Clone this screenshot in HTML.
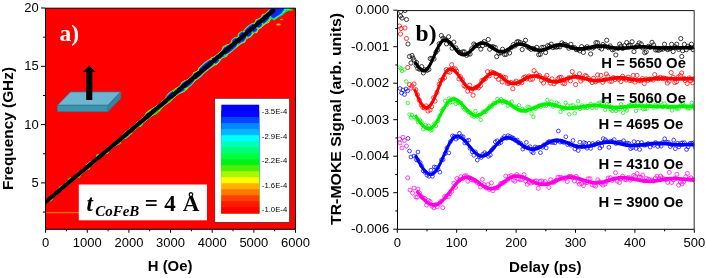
<!DOCTYPE html>
<html><head><meta charset="utf-8"><title>Figure</title>
<style>html,body{margin:0;padding:0;background:#fff;}svg{display:block;will-change:transform;}text{font-family:"Liberation Sans",sans-serif;fill:#000;}.b{font-weight:bold;}.s{font-family:"Liberation Serif",serif;font-weight:bold;}</style></head><body>
<svg width="706" height="278" viewBox="0 0 706 278">
<rect width="706" height="278" fill="#fff"/>
<defs><clipPath id="cl"><rect x="45.5" y="8.2" width="250" height="221.1"/></clipPath><clipPath id="cr"><rect x="397" y="10" width="297.5" height="219.3"/></clipPath></defs>
<rect x="45.5" y="8.2" width="250" height="221.1" fill="#ff0000"/>
<g clip-path="url(#cl)">
<rect x="45.5" y="212.2" width="34" height="0.9" fill="#ff9a00"/>
<rect x="45.5" y="211.9" width="34" height="1.5" fill="#ff5000" opacity="0.5"/>
<path d="M38.92 205.33 L39.92 204.49 L40.92 203.65 L41.92 202.81 L42.92 201.97 L43.68 200.84 L44.47 199.76 L45.73 199.23 L46.92 198.61 L47.92 197.77 L48.92 196.93 L49.92 196.09 L50.92 195.25 L51.92 194.41 L52.92 193.57 L53.92 192.73 L54.92 191.89 L55.92 191.05 L56.92 190.21 L57.92 189.37 L58.92 188.53 L59.92 187.69 L60.92 186.85 L61.92 186.01 L62.92 185.17 L63.92 184.33 L64.86 183.42 L65.77 182.47 L66.92 181.81 L67.92 180.97 L68.92 180.13 L69.92 179.29 L70.92 178.45 L71.92 177.61 L72.92 176.77 L73.92 175.93 L74.92 175.09 L75.92 174.25 L76.92 173.41 L77.73 172.35 L78.79 171.59 L79.92 170.89 L80.92 170.05 L81.92 169.21 L82.92 168.37 L83.92 167.53 L84.92 166.69 L85.87 165.79 L86.34 164.33 L87.35 163.5 L88.37 162.68 L89.38 161.85 L90.56 161.22 L91.9 160.8 L92.92 159.97 L93.92 159.13 L94.92 158.29 L95.92 157.45 L96.92 156.61 L97.92 155.77 L98.92 154.93 L99.91 154.08 L100.9 153.23 L101.9 152.38 L102.89 151.54 L103.88 150.68 L104.86 149.83 L105.86 148.98 L106.86 148.14 L107.85 147.29 L108.84 146.44 L109.83 145.59 L110.82 144.74 L111.82 143.89 L112.81 143.04 L113.8 142.19 L114.79 141.34 L115.79 140.49 L116.78 139.65 L117.77 138.8 L118.76 137.94 L119.73 137.07 L120.73 136.22 L121.72 135.37 L122.71 134.53 L123.69 133.65 L124.6 132.71 L125.33 131.55 L126.53 130.95 L127.64 130.24 L128.64 129.4 L129.63 128.55 L130.6 127.68 L131.59 126.82 L132.58 125.98 L133.59 125.14 L134.59 124.3 L135.57 123.44 L136.54 122.56 L137.52 121.7 L138.52 120.86 L139.54 120.05 L140.55 119.22 L141.56 118.38 L142.58 117.57 L143.58 116.73 L144.52 115.81 L145.15 114.54 L145.64 113.09 L146.63 112.24 L147.62 111.39 L148.61 110.53 L149.7 109.81 L150.91 109.21 L152 108.48 L153.09 107.74 L154.26 107.11 L155.3 106.32 L156.34 105.52 L157.43 104.79 L158.47 104 L159.47 103.16 L160.47 102.31 L161.46 101.47 L162.45 100.62 L163.45 99.77 L164.44 98.92 L165.43 98.07 L166.43 97.23 L167.42 96.38 L168.41 95.53 L169.21 94.45 L169.99 93.35 L171.13 92.68 L172.25 91.98 L173.31 91.21 L174.22 90.26 L175.02 89.19 L175.69 87.96 L177.01 87.49 L178.19 86.87 L179.28 86.13 L180.15 85.14 L180.72 83.79 L181.31 82.46 L182.37 81.69 L183.52 81.02 L184.58 80.26 L186 79.91 L187.3 79.43 L188.29 78.59 L189.29 77.74 L190.28 76.89 L191.27 76.04 L192.18 75.1 L192.8 73.8 L193.3 72.37 L194.59 71.87 L195.94 71.45 L197.05 70.74 L197.9 69.72 L198.4 68.28 L199.04 67.01 L200.42 66.63 L201.92 66.39 L203.09 65.74 L204.18 65.01 L205.19 64.19 L206.19 63.34 L207.18 62.5 L207.93 61.36 L208.74 60.29 L209.68 59.38 L210.55 58.38 L211.44 57.41 L212.66 56.84 L214.01 56.41 L215.14 55.73 L216.14 54.88 L217.13 54.03 L218.12 53.19 L219.12 52.34 L220.11 51.5 L221.06 50.59 L221.81 49.45 L222.22 47.92 L222.82 46.59 L223.94 45.89 L225.18 45.34 L226.29 44.64 L227.57 44.13 L229.07 43.88 L230.06 43.04 L231.06 42.19 L232.05 41.34 L233.05 40.5 L234.05 39.65 L235.04 38.81 L236.04 37.96 L237.03 37.12 L238.03 36.27 L239.02 35.42 L240.02 34.58 L240.4 33 L241 31.69 L242.32 31.22 L243.93 31.12 L244.99 30.35 L245.99 29.51 L246.64 28.25 L247.43 27.16 L248.49 26.39 L249.61 25.69 L250.67 24.92 L251.8 24.25 L252.98 23.62 L253.98 22.78 L254.93 21.87 L255.35 20.35 L256.06 19.16 L257.38 18.7 L258.98 18.58 L259.98 17.74 L260.98 16.9 L261.52 15.51 L262.25 14.35 L263.53 13.84 L264.98 13.54 L265.98 12.7 L266.98 11.86 L267.89 10.9 L268.72 9.87 L269.83 9.16 L270.98 8.5 L271.98 7.66 L272.98 6.82 L273.98 5.98 L274.98 5.14 L275.67 3.93 L275.93 2.2 L276.56 0.92 L277.65 0.19 L278.82 -0.44 L279.91 -1.18 L281.18 -1.7 L282.71 -1.91 L283.97 -2.43 L284.66 -3.64 L285.05 -5.22 L285.74 -6.42 L293.79 3.17 L292.54 3.71 L291.04 3.95 L289.79 4.49 L289.04 5.63 L288.55 7.07 L287.8 8.22 L286.54 8.75 L285.03 8.98 L283.78 9.52 L282.67 10.23 L281.47 10.83 L280.4 11.59 L279.4 12.43 L278.4 13.27 L277.4 14.11 L276.4 14.95 L275.61 16.03 L274.74 17.03 L273.52 17.62 L272.4 18.31 L271.4 19.15 L270.4 19.99 L269.81 21.31 L269.12 22.52 L267.96 23.18 L266.65 23.65 L265.5 24.3 L264.46 25.1 L263.4 25.87 L262.4 26.71 L261.4 27.55 L260.4 28.39 L259.39 29.21 L258.37 30.03 L257.84 31.44 L257.18 32.67 L255.89 33.17 L254.32 33.33 L253.29 34.13 L252.26 34.94 L251.56 36.14 L250.72 37.17 L249.46 37.7 L248.15 38.18 L247.13 38.98 L246.1 39.79 L245.67 41.3 L244.97 42.51 L243.74 43.07 L242.34 43.44 L241.13 44.03 L240.12 44.86 L239.13 45.7 L238.12 46.53 L237 47.23 L235.84 47.88 L234.81 48.68 L233.78 49.49 L233 50.59 L232.09 51.54 L231.02 52.3 L229.92 53.02 L228.86 53.78 L227.98 54.77 L227.26 55.94 L226.47 57.03 L225.03 57.35 L223.53 57.59 L222.52 58.42 L221.51 59.25 L220.62 60.21 L219.77 61.24 L218.87 62.19 L218.07 63.28 L217.26 64.34 L216.04 64.92 L214.81 65.49 L213.7 66.19 L212.64 66.96 L211.53 67.67 L210.47 68.44 L209.42 69.22 L208.37 70 L207.36 70.83 L206.35 71.65 L205.34 72.48 L204.32 73.31 L203.31 74.13 L202.56 75.27 L201.7 76.28 L200.69 77.1 L199.68 77.93 L198.67 78.75 L197.57 79.47 L196.38 80.1 L195.29 80.82 L194.27 81.65 L193.26 82.47 L192.24 83.29 L191.3 84.2 L190.43 85.2 L189.49 86.1 L188.57 87.04 L187.99 88.38 L187.19 89.46 L186.17 90.27 L185.14 91.08 L184.12 91.89 L182.93 92.51 L181.57 92.92 L180.38 93.54 L179.23 94.2 L178.03 94.8 L177.02 95.62 L176.01 96.45 L175 97.28 L174.04 98.17 L173.04 99.01 L172.06 99.87 L171.06 100.72 L170.07 101.56 L169.09 102.43 L168.09 103.27 L167.05 104.06 L165.98 104.82 L164.95 105.62 L163.93 106.44 L162.91 107.26 L161.9 108.08 L160.94 108.96 L160.02 109.91 L159.27 111.04 L157.96 111.52 L156.8 112.16 L155.77 112.97 L154.76 113.79 L153.75 114.62 L152.73 115.44 L151.72 116.27 L150.8 117.21 L149.85 118.1 L148.78 118.86 L147.67 119.57 L146.66 120.4 L145.65 121.22 L144.7 122.13 L143.73 123 L142.69 123.79 L141.63 124.55 L140.59 125.35 L139.57 126.17 L138.56 127 L137.55 127.82 L136.54 128.65 L135.54 129.49 L134.54 130.33 L133.51 131.14 L132.49 131.95 L131.47 132.77 L130.46 133.6 L129.56 134.56 L129.09 136.03 L128.1 136.88 L127.13 137.76 L126.14 138.6 L124.54 138.74 L123.37 139.37 L122.36 140.2 L121.34 141.02 L120.34 141.86 L119.34 142.7 L118.34 143.53 L117.55 144.63 L116.79 145.75 L115.3 146.01 L114.25 146.79 L113.24 147.62 L112.23 148.44 L111.21 149.26 L110.2 150.09 L109.19 150.91 L108.19 151.75 L107.45 152.91 L106.18 153.42 L105.14 154.22 L104.12 155.04 L103.11 155.86 L102.09 156.68 L101.08 157.51 L100.08 158.35 L99.08 159.19 L98.08 160.03 L97.08 160.87 L96.08 161.71 L95.08 162.55 L94.08 163.39 L93.08 164.23 L92.29 165.32 L91.08 165.91 L90.08 166.75 L89.08 167.59 L88.08 168.43 L87.08 169.27 L86.49 170.59 L85.08 170.95 L84.08 171.79 L83.08 172.63 L82.08 173.47 L81.08 174.31 L80.08 175.15 L79.08 175.99 L78.08 176.83 L77.08 177.67 L76.08 178.51 L75.08 179.35 L74.08 180.19 L73.08 181.03 L72.08 181.87 L71.08 182.71 L70.08 183.55 L69.08 184.39 L68.08 185.23 L67.08 186.07 L66.08 186.91 L65.08 187.75 L64.08 188.59 L63.2 189.57 L62.27 190.49 L61.08 191.11 L60.08 191.95 L59.08 192.79 L58.08 193.63 L57.08 194.47 L56.08 195.31 L55.08 196.15 L54.08 196.99 L53.08 197.83 L52.08 198.67 L51.08 199.51 L50.08 200.35 L49.08 201.19 L48.08 202.03 L47.08 202.87 L46.08 203.71 L45.08 204.55 L44.08 205.39 L43.08 206.23 L42.08 207.07 L41.08 207.91Z" fill="#ff9000"/>
<path d="M38.95 205.37 L39.95 204.53 L40.95 203.69 L41.95 202.85 L42.95 202.01 L43.72 200.89 L44.52 199.82 L45.77 199.27 L46.95 198.65 L47.95 197.81 L48.95 196.97 L49.95 196.13 L50.95 195.29 L51.95 194.45 L52.95 193.61 L53.95 192.77 L54.95 191.93 L55.95 191.09 L56.95 190.25 L57.95 189.41 L58.95 188.57 L59.95 187.73 L60.95 186.89 L61.95 186.05 L62.95 185.21 L63.95 184.37 L64.89 183.46 L65.81 182.52 L66.95 181.85 L67.95 181.01 L68.95 180.17 L69.95 179.33 L70.95 178.49 L71.95 177.65 L72.95 176.81 L73.95 175.97 L74.95 175.13 L75.95 174.29 L76.95 173.45 L77.77 172.39 L78.83 171.63 L79.95 170.93 L80.95 170.09 L81.95 169.25 L82.95 168.41 L83.95 167.57 L84.95 166.73 L85.9 165.84 L86.4 164.39 L87.41 163.56 L88.43 162.75 L89.43 161.92 L90.6 161.28 L91.94 160.83 L92.95 160.01 L93.95 159.17 L94.95 158.33 L95.95 157.49 L96.95 156.65 L97.95 155.81 L98.95 154.97 L99.94 154.12 L100.94 153.27 L101.93 152.43 L102.92 151.58 L103.91 150.73 L104.9 149.87 L105.9 149.03 L106.89 148.18 L107.89 147.33 L108.88 146.49 L109.87 145.64 L110.86 144.79 L111.86 143.94 L112.85 143.09 L113.84 142.24 L114.84 141.39 L115.83 140.55 L116.82 139.7 L117.82 138.85 L118.8 137.99 L119.78 137.13 L120.77 136.28 L121.77 135.43 L122.76 134.58 L123.74 133.72 L124.65 132.78 L125.39 131.63 L126.58 131.01 L127.69 130.3 L128.7 129.47 L129.68 128.61 L130.66 127.74 L131.64 126.89 L132.64 126.04 L133.65 125.21 L134.65 124.37 L135.63 123.51 L136.6 122.63 L137.58 121.77 L138.58 120.94 L139.61 120.12 L140.61 119.29 L141.62 118.46 L142.64 117.64 L143.64 116.8 L144.58 115.89 L145.23 114.63 L145.74 113.21 L146.73 112.36 L147.72 111.51 L148.71 110.66 L149.8 109.93 L151 109.32 L152.09 108.59 L153.17 107.84 L154.34 107.2 L155.38 106.41 L156.41 105.61 L157.5 104.88 L158.54 104.09 L159.54 103.25 L160.54 102.4 L161.53 101.55 L162.53 100.71 L163.52 99.86 L164.52 99.01 L165.51 98.17 L166.5 97.32 L167.5 96.47 L168.49 95.62 L169.3 94.55 L170.09 93.47 L171.22 92.79 L172.34 92.08 L173.39 91.31 L174.31 90.37 L175.12 89.3 L175.8 88.09 L177.1 87.6 L178.28 86.97 L179.36 86.23 L180.24 85.25 L180.83 83.92 L181.44 82.61 L182.5 81.84 L183.64 81.17 L184.7 80.4 L186.1 80.03 L187.39 79.54 L188.38 78.69 L189.38 77.85 L190.37 77 L191.37 76.15 L192.28 75.21 L192.91 73.93 L193.43 72.52 L194.71 72.02 L196.05 71.58 L197.16 70.86 L198.01 69.85 L198.53 68.44 L199.18 67.19 L200.55 66.79 L202.03 66.52 L203.19 65.87 L204.28 65.13 L205.29 64.31 L206.29 63.46 L207.28 62.62 L208.04 61.49 L208.86 60.43 L209.8 59.52 L210.67 58.53 L211.57 57.57 L212.79 56.99 L214.12 56.54 L215.25 55.85 L216.24 55.01 L217.24 54.16 L218.23 53.32 L219.23 52.47 L220.22 51.63 L221.17 50.72 L221.93 49.59 L222.37 48.09 L222.98 46.79 L224.09 46.08 L225.33 45.52 L226.44 44.81 L227.71 44.29 L229.18 44.02 L230.18 43.17 L231.17 42.33 L232.17 41.48 L233.17 40.64 L234.16 39.79 L235.16 38.95 L236.15 38.1 L237.15 37.26 L238.15 36.41 L239.14 35.57 L240.14 34.72 L240.54 33.18 L241.16 31.88 L242.47 31.4 L244.06 31.27 L245.12 30.5 L246.11 29.65 L246.78 28.42 L247.58 27.33 L248.63 26.56 L249.75 25.86 L250.8 25.09 L251.94 24.4 L253.1 23.76 L254.1 22.92 L255.05 22.02 L255.5 20.52 L256.22 19.36 L257.53 18.88 L259.1 18.72 L260.1 17.88 L261.1 17.04 L261.67 15.68 L262.4 14.53 L263.67 14.01 L265.1 13.68 L266.1 12.84 L267.1 12 L268.01 11.06 L268.86 10.03 L269.96 9.32 L271.1 8.64 L272.1 7.8 L273.1 6.96 L274.1 6.12 L275.1 5.28 L275.81 4.09 L276.09 2.4 L276.74 1.14 L277.82 0.4 L278.99 -0.24 L280.08 -0.98 L281.33 -1.51 L282.84 -1.75 L284.1 -2.29 L284.8 -3.48 L285.21 -5.02 L285.91 -6.21 L293.56 2.89 L292.32 3.44 L290.84 3.71 L289.6 4.26 L288.84 5.39 L288.33 6.81 L287.57 7.94 L286.32 8.49 L284.83 8.74 L283.59 9.29 L282.49 10.01 L281.29 10.62 L280.23 11.38 L279.23 12.22 L278.23 13.06 L277.23 13.9 L276.23 14.74 L275.42 15.82 L274.55 16.81 L273.34 17.4 L272.23 18.1 L271.23 18.94 L270.23 19.78 L269.62 21.08 L268.91 22.28 L267.76 22.94 L266.47 23.43 L265.32 24.09 L264.28 24.89 L263.23 25.66 L262.23 26.5 L261.23 27.34 L260.23 28.18 L259.21 29 L258.19 29.82 L257.65 31.2 L256.97 32.42 L255.69 32.93 L254.14 33.12 L253.11 33.92 L252.09 34.73 L251.37 35.92 L250.53 36.94 L249.28 37.48 L247.98 37.97 L246.96 38.78 L245.93 39.59 L245.47 41.08 L244.77 42.26 L243.54 42.83 L242.16 43.22 L240.96 43.82 L239.95 44.65 L238.96 45.5 L237.94 46.33 L236.83 47.03 L235.67 47.68 L234.65 48.49 L233.62 49.3 L232.83 50.39 L231.92 51.34 L230.86 52.1 L229.76 52.82 L228.69 53.59 L227.81 54.57 L227.08 55.72 L226.28 56.8 L224.86 57.15 L223.38 57.41 L222.37 58.24 L221.36 59.07 L220.46 60.03 L219.61 61.05 L218.7 62 L217.91 63.08 L217.08 64.13 L215.88 64.73 L214.66 65.3 L213.55 66.01 L212.49 66.78 L211.38 67.5 L210.33 68.27 L209.28 69.05 L208.23 69.84 L207.22 70.67 L206.21 71.49 L205.2 72.32 L204.19 73.15 L203.18 73.98 L202.42 75.1 L201.56 76.1 L200.54 76.93 L199.54 77.76 L198.52 78.58 L197.43 79.31 L196.25 79.94 L195.16 80.67 L194.15 81.5 L193.13 82.32 L192.12 83.15 L191.18 84.05 L190.3 85.04 L189.35 85.94 L188.44 86.88 L187.84 88.2 L187.04 89.27 L186.01 90.09 L184.99 90.89 L183.96 91.71 L182.78 92.33 L181.44 92.77 L180.26 93.39 L179.12 94.06 L177.92 94.67 L176.91 95.5 L175.9 96.32 L174.89 97.15 L173.94 98.04 L172.94 98.89 L171.96 99.75 L170.96 100.59 L169.96 101.44 L168.98 102.3 L167.99 103.15 L166.95 103.94 L165.88 104.7 L164.85 105.5 L163.83 106.32 L162.82 107.14 L161.8 107.96 L160.84 108.85 L159.93 109.79 L159.16 110.91 L157.87 111.4 L156.71 112.06 L155.68 112.86 L154.67 113.69 L153.66 114.52 L152.65 115.34 L151.64 116.17 L150.72 117.1 L149.76 118 L148.7 118.76 L147.59 119.48 L146.58 120.3 L145.57 121.13 L144.63 122.04 L143.65 122.9 L142.61 123.7 L141.55 124.47 L140.52 125.27 L139.5 126.09 L138.49 126.92 L137.48 127.74 L136.47 128.57 L135.47 129.41 L134.47 130.25 L133.44 131.06 L132.42 131.87 L131.41 132.7 L130.4 133.53 L129.5 134.48 L129 135.92 L128.01 136.77 L127.04 137.65 L126.05 138.5 L124.48 138.66 L123.32 139.31 L122.3 140.13 L121.29 140.96 L120.29 141.8 L119.29 142.64 L118.29 143.47 L117.49 144.56 L116.72 145.67 L115.25 145.95 L114.21 146.74 L113.2 147.56 L112.18 148.39 L111.17 149.21 L110.16 150.04 L109.15 150.87 L108.15 151.71 L107.4 152.85 L106.14 153.38 L105.1 154.17 L104.09 154.99 L103.07 155.82 L102.06 156.64 L101.05 157.47 L100.05 158.31 L99.05 159.15 L98.05 159.99 L97.05 160.83 L96.05 161.67 L95.05 162.51 L94.05 163.35 L93.05 164.19 L92.25 165.27 L91.05 165.87 L90.05 166.71 L89.05 167.55 L88.05 168.39 L87.05 169.23 L86.44 170.53 L85.05 170.91 L84.05 171.75 L83.05 172.59 L82.05 173.43 L81.05 174.27 L80.05 175.11 L79.05 175.95 L78.05 176.79 L77.05 177.63 L76.05 178.47 L75.05 179.31 L74.05 180.15 L73.05 180.99 L72.05 181.83 L71.05 182.67 L70.05 183.51 L69.05 184.35 L68.05 185.19 L67.05 186.03 L66.05 186.87 L65.05 187.71 L64.05 188.55 L63.17 189.53 L62.23 190.45 L61.05 191.07 L60.05 191.91 L59.05 192.75 L58.05 193.59 L57.05 194.43 L56.05 195.27 L55.05 196.11 L54.05 196.95 L53.05 197.79 L52.05 198.63 L51.05 199.47 L50.05 200.31 L49.05 201.15 L48.05 201.99 L47.05 202.83 L46.05 203.67 L45.05 204.51 L44.05 205.35 L43.05 206.19 L42.05 207.03 L41.05 207.87Z" fill="#f4f400"/>
<path d="M38.98 205.41 L39.98 204.57 L40.98 203.73 L41.98 202.89 L42.98 202.05 L43.77 200.95 L44.58 199.89 L45.81 199.33 L46.98 198.69 L47.98 197.85 L48.98 197.01 L49.98 196.17 L50.98 195.33 L51.98 194.49 L52.98 193.65 L53.98 192.81 L54.98 191.97 L55.98 191.13 L56.98 190.29 L57.98 189.45 L58.98 188.61 L59.98 187.77 L60.98 186.93 L61.98 186.09 L62.98 185.25 L63.98 184.41 L64.93 183.5 L65.85 182.57 L66.98 181.89 L67.98 181.05 L68.98 180.21 L69.98 179.37 L70.98 178.53 L71.98 177.69 L72.98 176.85 L73.98 176.01 L74.98 175.17 L75.98 174.33 L76.98 173.49 L77.81 172.45 L78.87 171.68 L79.98 170.97 L80.98 170.13 L81.98 169.29 L82.98 168.45 L83.98 167.61 L84.98 166.77 L85.94 165.88 L86.46 164.47 L87.47 163.64 L88.49 162.82 L89.5 161.99 L90.66 161.34 L91.97 160.87 L92.98 160.05 L93.98 159.21 L94.98 158.37 L95.98 157.53 L96.98 156.69 L97.98 155.85 L98.98 155.01 L99.98 154.16 L100.97 153.31 L101.96 152.47 L102.96 151.62 L103.95 150.77 L104.94 149.92 L105.94 149.07 L106.93 148.23 L107.93 147.38 L108.92 146.53 L109.91 145.69 L110.91 144.84 L111.9 143.99 L112.9 143.15 L113.89 142.3 L114.88 141.45 L115.88 140.6 L116.87 139.76 L117.87 138.91 L118.85 138.05 L119.83 137.19 L120.83 136.34 L121.82 135.5 L122.82 134.65 L123.79 133.78 L124.72 132.85 L125.47 131.72 L126.65 131.1 L127.75 130.37 L128.76 129.54 L129.75 128.69 L130.73 127.82 L131.71 126.97 L132.71 126.12 L133.72 125.29 L134.72 124.45 L135.7 123.59 L136.67 122.72 L137.65 121.86 L138.66 121.02 L139.68 120.21 L140.69 119.38 L141.69 118.54 L142.71 117.73 L143.72 116.89 L144.66 115.98 L145.33 114.75 L145.87 113.37 L146.86 112.52 L147.85 111.67 L148.85 110.81 L149.93 110.08 L151.12 109.46 L152.2 108.72 L153.28 107.97 L154.43 107.32 L155.47 106.52 L156.51 105.72 L157.59 104.98 L158.63 104.19 L159.63 103.35 L160.63 102.5 L161.62 101.66 L162.62 100.81 L163.61 99.97 L164.61 99.12 L165.6 98.27 L166.6 97.43 L167.59 96.58 L168.59 95.74 L169.4 94.68 L170.21 93.61 L171.34 92.92 L172.44 92.21 L173.5 91.43 L174.42 90.49 L175.24 89.44 L175.94 88.25 L177.23 87.75 L178.39 87.11 L179.47 86.36 L180.36 85.38 L180.97 84.09 L181.6 82.8 L182.66 82.04 L183.79 81.35 L184.85 80.58 L186.22 80.18 L187.5 79.67 L188.49 78.82 L189.49 77.98 L190.48 77.13 L191.48 76.29 L192.4 75.35 L193.05 74.1 L193.6 72.73 L194.87 72.2 L196.18 71.74 L197.28 71.02 L198.15 70.02 L198.7 68.64 L199.37 67.41 L200.72 66.99 L202.17 66.68 L203.32 66.02 L204.4 65.28 L205.42 64.46 L206.41 63.61 L207.41 62.77 L208.18 61.66 L209.01 60.61 L209.96 59.71 L210.84 58.73 L211.74 57.77 L212.95 57.18 L214.26 56.71 L215.38 56.01 L216.37 55.16 L217.37 54.32 L218.37 53.47 L219.36 52.63 L220.36 51.79 L221.31 50.89 L222.08 49.78 L222.56 48.31 L223.19 47.04 L224.3 46.33 L225.52 45.75 L226.62 45.03 L227.88 44.49 L229.32 44.19 L230.32 43.34 L231.32 42.5 L232.31 41.65 L233.31 40.81 L234.31 39.96 L235.3 39.12 L236.3 38.28 L237.3 37.43 L238.29 36.59 L239.29 35.74 L240.29 34.9 L240.73 33.4 L241.38 32.14 L242.66 31.63 L244.21 31.45 L245.27 30.68 L246.27 29.84 L246.95 28.62 L247.76 27.56 L248.82 26.78 L249.92 26.07 L250.98 25.29 L252.1 24.6 L253.26 23.95 L254.26 23.11 L255.21 22.21 L255.69 20.75 L256.43 19.61 L257.72 19.11 L259.26 18.91 L260.26 18.07 L261.26 17.23 L261.85 15.9 L262.6 14.77 L263.85 14.23 L265.26 13.87 L266.26 13.03 L267.26 12.19 L268.17 11.25 L269.03 10.23 L270.13 9.51 L271.26 8.83 L272.26 7.99 L273.26 7.15 L274.26 6.31 L275.26 5.47 L275.98 4.3 L276.31 2.66 L276.98 1.42 L278.06 0.68 L279.22 0.03 L280.3 -0.72 L281.54 -1.27 L283.01 -1.55 L284.25 -2.1 L284.97 -3.27 L285.42 -4.77 L286.14 -5.94 L293.28 2.55 L292.05 3.13 L290.6 3.43 L289.37 4 L288.6 5.11 L288.06 6.49 L287.29 7.6 L286.05 8.17 L284.59 8.46 L283.36 9.02 L282.27 9.75 L281.09 10.37 L280.03 11.14 L279.03 11.98 L278.03 12.82 L277.03 13.66 L276.03 14.5 L275.21 15.56 L274.33 16.55 L273.14 17.15 L272.03 17.86 L271.03 18.7 L270.03 19.54 L269.39 20.82 L268.67 21.99 L267.53 22.66 L266.25 23.17 L265.11 23.84 L264.08 24.65 L263.03 25.42 L262.03 26.26 L261.03 27.1 L260.03 27.94 L259.01 28.76 L257.99 29.58 L257.42 30.93 L256.72 32.12 L255.45 32.65 L253.94 32.88 L252.91 33.69 L251.89 34.5 L251.16 35.66 L250.3 36.67 L249.07 37.23 L247.79 37.74 L246.76 38.55 L245.74 39.36 L245.25 40.81 L244.52 41.97 L243.31 42.56 L241.95 42.97 L240.76 43.59 L239.75 44.42 L238.76 45.26 L237.75 46.09 L236.64 46.8 L235.49 47.47 L234.47 48.28 L233.44 49.09 L232.64 50.16 L231.72 51.1 L230.66 51.86 L229.57 52.59 L228.51 53.36 L227.62 54.34 L226.86 55.47 L226.05 56.54 L224.66 56.91 L223.21 57.21 L222.2 58.04 L221.19 58.87 L220.29 59.83 L219.43 60.83 L218.52 61.78 L217.71 62.84 L216.87 63.88 L215.68 64.49 L214.47 65.08 L213.37 65.8 L212.32 66.58 L211.22 67.3 L210.17 68.08 L209.12 68.87 L208.08 69.65 L207.07 70.48 L206.06 71.31 L205.05 72.14 L204.04 72.97 L203.03 73.8 L202.26 74.91 L201.39 75.9 L200.37 76.73 L199.37 77.56 L198.36 78.39 L197.27 79.12 L196.1 79.76 L195.02 80.5 L194.01 81.33 L192.99 82.15 L191.98 82.98 L191.04 83.88 L190.15 84.86 L189.2 85.76 L188.28 86.69 L187.66 87.98 L186.84 89.04 L185.82 89.86 L184.8 90.67 L183.78 91.48 L182.61 92.12 L181.29 92.58 L180.12 93.22 L178.98 93.9 L177.8 94.53 L176.79 95.35 L175.78 96.18 L174.77 97.01 L173.82 97.9 L172.82 98.75 L171.84 99.61 L170.84 100.45 L169.84 101.29 L168.86 102.16 L167.87 103 L166.83 103.8 L165.77 104.57 L164.74 105.37 L163.72 106.19 L162.71 107.01 L161.69 107.84 L160.73 108.72 L159.81 109.66 L159.03 110.76 L157.76 111.27 L156.61 111.94 L155.59 112.75 L154.58 113.58 L153.57 114.41 L152.56 115.23 L151.55 116.06 L150.62 116.99 L149.66 117.88 L148.61 118.65 L147.51 119.37 L146.5 120.2 L145.49 121.03 L144.54 121.93 L143.56 122.8 L142.52 123.59 L141.47 124.37 L140.44 125.17 L139.42 126 L138.41 126.82 L137.4 127.65 L136.39 128.48 L135.39 129.32 L134.4 130.17 L133.37 130.97 L132.35 131.79 L131.34 132.62 L130.33 133.45 L129.42 134.4 L128.9 135.8 L127.91 136.65 L126.94 137.53 L125.95 138.38 L124.41 138.58 L123.26 139.24 L122.25 140.06 L121.24 140.89 L120.24 141.73 L119.23 142.57 L118.23 143.41 L117.43 144.48 L116.64 145.57 L115.2 145.89 L114.16 146.68 L113.15 147.51 L112.14 148.33 L111.13 149.16 L110.12 149.99 L109.1 150.82 L108.11 151.66 L107.34 152.78 L106.1 153.33 L105.06 154.13 L104.05 154.95 L103.04 155.78 L102.03 156.6 L101.02 157.43 L100.02 158.27 L99.02 159.11 L98.02 159.95 L97.02 160.79 L96.02 161.63 L95.02 162.47 L94.02 163.31 L93.02 164.15 L92.21 165.22 L91.02 165.83 L90.02 166.67 L89.02 167.51 L88.02 168.35 L87.02 169.19 L86.38 170.47 L85.02 170.87 L84.02 171.71 L83.02 172.55 L82.02 173.39 L81.02 174.23 L80.02 175.07 L79.02 175.91 L78.02 176.75 L77.02 177.59 L76.02 178.43 L75.02 179.27 L74.02 180.11 L73.02 180.95 L72.02 181.79 L71.02 182.63 L70.02 183.47 L69.02 184.31 L68.02 185.15 L67.02 185.99 L66.02 186.83 L65.02 187.67 L64.02 188.51 L63.13 189.48 L62.19 190.4 L61.02 191.03 L60.02 191.87 L59.02 192.71 L58.02 193.55 L57.02 194.39 L56.02 195.23 L55.02 196.07 L54.02 196.91 L53.02 197.75 L52.02 198.59 L51.02 199.43 L50.02 200.27 L49.02 201.11 L48.02 201.95 L47.02 202.79 L46.02 203.63 L45.02 204.47 L44.02 205.31 L43.02 206.15 L42.02 206.99 L41.02 207.83Z" fill="#00f000"/>
<path d="M39.02 205.45 L40.02 204.61 L41.02 203.77 L42.02 202.93 L43.02 202.09 L43.82 201.02 L44.66 199.98 L45.86 199.39 L47.02 198.73 L48.02 197.89 L49.02 197.05 L50.02 196.21 L51.02 195.37 L52.02 194.53 L53.02 193.69 L54.02 192.85 L55.02 192.01 L56.02 191.17 L57.02 190.33 L58.02 189.49 L59.02 188.65 L60.02 187.81 L61.02 186.97 L62.02 186.13 L63.02 185.29 L64.02 184.45 L64.97 183.55 L65.89 182.62 L67.02 181.93 L68.02 181.09 L69.02 180.25 L70.02 179.41 L71.02 178.57 L72.02 177.73 L73.02 176.89 L74.02 176.05 L75.02 175.21 L76.02 174.37 L77.02 173.53 L77.86 172.51 L78.92 171.73 L80.02 171.01 L81.02 170.17 L82.02 169.33 L83.02 168.49 L84.02 167.65 L85.02 166.81 L85.98 165.92 L86.55 164.58 L87.56 163.75 L88.58 162.93 L89.59 162.1 L90.72 161.42 L92 160.91 L93.02 160.09 L94.02 159.25 L95.02 158.41 L96.02 157.57 L97.02 156.73 L98.02 155.89 L99.02 155.05 L100.01 154.2 L101.01 153.36 L102 152.51 L103 151.66 L103.99 150.81 L104.98 149.96 L105.98 149.12 L106.97 148.28 L107.97 147.43 L108.96 146.59 L109.96 145.74 L110.95 144.89 L111.95 144.05 L112.94 143.2 L113.94 142.36 L114.93 141.51 L115.93 140.67 L116.92 139.82 L117.92 138.97 L118.91 138.12 L119.89 137.26 L120.89 136.41 L121.88 135.57 L122.88 134.72 L123.86 133.86 L124.79 132.94 L125.57 131.84 L126.73 131.19 L127.82 130.46 L128.83 129.63 L129.82 128.77 L130.8 127.91 L131.79 127.06 L132.79 126.22 L133.8 125.39 L134.8 124.55 L135.78 123.69 L136.76 122.82 L137.74 121.96 L138.75 121.13 L139.76 120.31 L140.77 119.48 L141.78 118.64 L142.8 117.83 L143.8 116.99 L144.75 116.09 L145.46 114.9 L146.05 113.58 L147.04 112.73 L148.04 111.88 L149.03 111.03 L150.11 110.28 L151.27 109.64 L152.35 108.89 L153.41 108.13 L154.55 107.46 L155.59 106.66 L156.62 105.86 L157.69 105.1 L158.73 104.31 L159.73 103.47 L160.73 102.62 L161.72 101.78 L162.72 100.93 L163.71 100.09 L164.71 99.24 L165.71 98.4 L166.7 97.56 L167.7 96.71 L168.69 95.87 L169.53 94.84 L170.36 93.79 L171.47 93.08 L172.57 92.36 L173.62 91.57 L174.55 90.65 L175.39 89.62 L176.13 88.47 L177.38 87.93 L178.53 87.27 L179.6 86.51 L180.5 85.55 L181.16 84.31 L181.83 83.07 L182.88 82.3 L184 81.59 L185.05 80.82 L186.38 80.37 L187.62 79.82 L188.62 78.98 L189.62 78.13 L190.61 77.29 L191.61 76.44 L192.54 75.52 L193.23 74.31 L193.83 73 L195.07 72.44 L196.35 71.94 L197.44 71.2 L198.32 70.22 L198.92 68.9 L199.63 67.72 L200.94 67.25 L202.34 66.89 L203.48 66.2 L204.55 65.45 L205.56 64.63 L206.56 63.78 L207.56 62.94 L208.36 61.86 L209.2 60.84 L210.16 59.95 L211.05 58.98 L211.96 58.04 L213.15 57.42 L214.43 56.91 L215.53 56.19 L216.53 55.35 L217.53 54.5 L218.52 53.66 L219.52 52.82 L220.52 51.97 L221.47 51.08 L222.27 50 L222.81 48.61 L223.48 47.39 L224.58 46.66 L225.77 46.05 L226.87 45.32 L228.09 44.75 L229.49 44.38 L230.49 43.54 L231.49 42.7 L232.48 41.85 L233.48 41.01 L234.48 40.17 L235.47 39.32 L236.47 38.48 L237.47 37.64 L238.47 36.79 L239.46 35.95 L240.46 35.11 L240.97 33.68 L241.65 32.47 L242.9 31.93 L244.4 31.67 L245.45 30.89 L246.45 30.05 L247.17 28.88 L248 27.84 L249.05 27.06 L250.14 26.33 L251.19 25.55 L252.3 24.84 L253.44 24.17 L254.44 23.33 L255.4 22.43 L255.94 21.05 L256.71 19.93 L257.96 19.4 L259.44 19.13 L260.44 18.29 L261.44 17.45 L262.08 16.17 L262.86 15.07 L264.08 14.5 L265.44 14.09 L266.44 13.25 L267.44 12.41 L268.37 11.48 L269.24 10.48 L270.33 9.75 L271.44 9.05 L272.44 8.21 L273.44 7.37 L274.44 6.53 L275.44 5.69 L276.2 4.55 L276.6 3 L277.3 1.81 L278.37 1.05 L279.52 0.38 L280.59 -0.37 L281.8 -0.96 L283.22 -1.3 L284.44 -1.88 L285.19 -3.02 L285.7 -4.44 L286.45 -5.58 L292.93 2.13 L291.72 2.73 L290.32 3.09 L289.12 3.69 L288.32 4.78 L287.73 6.1 L286.93 7.18 L285.73 7.78 L284.32 8.13 L283.11 8.72 L282.03 9.47 L280.86 10.11 L279.81 10.89 L278.81 11.73 L277.81 12.57 L276.81 13.41 L275.81 14.25 L274.98 15.28 L274.08 16.25 L272.91 16.88 L271.81 17.61 L270.81 18.45 L269.81 19.29 L269.14 20.51 L268.38 21.65 L267.26 22.34 L266.01 22.88 L264.89 23.58 L263.86 24.38 L262.81 25.17 L261.81 26.01 L260.81 26.85 L259.81 27.69 L258.8 28.51 L257.78 29.33 L257.15 30.62 L256.42 31.77 L255.18 32.33 L253.73 32.62 L252.7 33.43 L251.67 34.24 L250.91 35.36 L250.04 36.35 L248.83 36.95 L247.58 37.49 L246.56 38.3 L245.53 39.11 L244.98 40.49 L244.22 41.62 L243.03 42.23 L241.71 42.69 L240.54 43.33 L239.53 44.16 L238.54 45 L237.52 45.83 L236.43 46.55 L235.3 47.23 L234.27 48.04 L233.25 48.86 L232.42 49.9 L231.49 50.83 L230.43 51.6 L229.35 52.34 L228.3 53.11 L227.39 54.07 L226.61 55.17 L225.78 56.21 L224.43 56.63 L223.03 56.99 L222.02 57.82 L221.01 58.65 L220.1 59.6 L219.22 60.59 L218.3 61.52 L217.47 62.56 L216.62 63.57 L215.45 64.21 L214.26 64.83 L213.17 65.57 L212.12 66.35 L211.04 67.08 L209.99 67.87 L208.95 68.66 L207.91 69.46 L206.9 70.29 L205.9 71.12 L204.89 71.95 L203.88 72.78 L202.87 73.61 L202.07 74.69 L201.19 75.66 L200.18 76.49 L199.17 77.32 L198.16 78.15 L197.08 78.9 L195.93 79.56 L194.86 80.31 L193.85 81.14 L192.84 81.97 L191.83 82.8 L190.88 83.69 L189.98 84.66 L189.02 85.55 L188.09 86.47 L187.43 87.71 L186.59 88.75 L185.58 89.57 L184.55 90.38 L183.53 91.2 L182.39 91.86 L181.1 92.36 L179.95 93.02 L178.83 93.72 L177.67 94.37 L176.66 95.2 L175.65 96.03 L174.65 96.86 L173.68 97.74 L172.69 98.59 L171.7 99.45 L170.7 100.29 L169.71 101.13 L168.73 102 L167.73 102.84 L166.7 103.64 L165.64 104.42 L164.61 105.22 L163.6 106.05 L162.59 106.87 L161.58 107.7 L160.61 108.58 L159.68 109.5 L158.88 110.58 L157.64 111.13 L156.5 111.81 L155.48 112.63 L154.47 113.46 L153.47 114.29 L152.46 115.11 L151.45 115.94 L150.51 116.86 L149.55 117.75 L148.5 118.53 L147.41 119.26 L146.4 120.09 L145.4 120.92 L144.44 121.82 L143.46 122.68 L142.43 123.48 L141.38 124.26 L140.35 125.07 L139.34 125.9 L138.33 126.73 L137.32 127.56 L136.31 128.38 L135.32 129.23 L134.32 130.07 L133.3 130.88 L132.28 131.7 L131.27 132.53 L130.26 133.36 L129.34 134.3 L128.76 135.64 L127.77 136.49 L126.8 137.36 L125.81 138.21 L124.33 138.49 L123.2 139.16 L122.18 139.99 L121.18 140.82 L120.18 141.66 L119.18 142.5 L118.17 143.34 L117.35 144.38 L116.53 145.45 L115.15 145.82 L114.11 146.62 L113.1 147.45 L112.09 148.28 L111.08 149.11 L110.07 149.94 L109.06 150.76 L108.06 151.6 L107.27 152.7 L106.06 153.28 L105.03 154.08 L104.01 154.91 L103 155.74 L101.99 156.56 L100.98 157.39 L99.98 158.23 L98.98 159.07 L97.98 159.91 L96.98 160.75 L95.98 161.59 L94.98 162.43 L93.98 163.27 L92.98 164.11 L92.15 165.15 L90.98 165.79 L89.98 166.63 L88.98 167.47 L87.98 168.31 L86.98 169.15 L86.31 170.38 L84.98 170.83 L83.98 171.67 L82.98 172.51 L81.98 173.35 L80.98 174.19 L79.98 175.03 L78.98 175.87 L77.98 176.71 L76.98 177.55 L75.98 178.39 L74.98 179.23 L73.98 180.07 L72.98 180.91 L71.98 181.75 L70.98 182.59 L69.98 183.43 L68.98 184.27 L67.98 185.11 L66.98 185.95 L65.98 186.79 L64.98 187.63 L63.98 188.47 L63.08 189.43 L62.14 190.33 L60.98 190.99 L59.98 191.83 L58.98 192.67 L57.98 193.51 L56.98 194.35 L55.98 195.19 L54.98 196.03 L53.98 196.87 L52.98 197.71 L51.98 198.55 L50.98 199.39 L49.98 200.23 L48.98 201.07 L47.98 201.91 L46.98 202.75 L45.98 203.59 L44.98 204.43 L43.98 205.27 L42.98 206.11 L41.98 206.95 L40.98 207.79Z" fill="#00f8e0"/>
<path d="M39.05 205.49 L40.05 204.65 L41.05 203.81 L42.05 202.97 L43.05 202.13 L43.88 201.09 L44.74 200.08 L45.92 199.45 L47.05 198.77 L48.05 197.93 L49.05 197.09 L50.05 196.25 L51.05 195.41 L52.05 194.57 L53.05 193.73 L54.05 192.89 L55.05 192.05 L56.05 191.21 L57.05 190.37 L58.05 189.53 L59.05 188.69 L60.05 187.85 L61.05 187.01 L62.05 186.17 L63.05 185.33 L64.05 184.49 L65.01 183.6 L65.94 182.68 L67.05 181.97 L68.05 181.13 L69.05 180.29 L70.05 179.45 L71.05 178.61 L72.05 177.77 L73.05 176.93 L74.05 176.09 L75.05 175.25 L76.05 174.41 L77.05 173.57 L77.92 172.57 L78.96 171.79 L80.05 171.05 L81.05 170.21 L82.05 169.37 L83.05 168.53 L84.05 167.69 L85.05 166.85 L86.01 165.97 L86.66 164.7 L87.66 163.87 L88.68 163.04 L89.68 162.21 L90.8 161.51 L92.04 160.95 L93.05 160.13 L94.05 159.29 L95.05 158.45 L96.05 157.61 L97.05 156.77 L98.05 155.93 L99.05 155.09 L100.04 154.24 L101.04 153.4 L102.04 152.55 L103.03 151.71 L104.03 150.86 L105.02 150.01 L106.02 149.17 L107.02 148.33 L108.01 147.48 L109.01 146.64 L110 145.79 L111 144.95 L112 144.1 L112.99 143.26 L113.99 142.42 L114.98 141.57 L115.98 140.73 L116.98 139.88 L117.97 139.04 L118.96 138.19 L119.95 137.33 L120.95 136.49 L121.94 135.64 L122.94 134.8 L123.92 133.94 L124.87 133.03 L125.68 131.97 L126.82 131.29 L127.9 130.54 L128.9 129.71 L129.89 128.86 L130.88 128 L131.87 127.15 L132.87 126.31 L133.87 125.48 L134.88 124.64 L135.86 123.79 L136.84 122.92 L137.83 122.07 L138.83 121.23 L139.85 120.41 L140.86 119.58 L141.86 118.74 L142.88 117.92 L143.88 117.09 L144.84 116.2 L145.59 115.06 L146.25 113.81 L147.24 112.96 L148.23 112.12 L149.23 111.27 L150.29 110.51 L151.43 109.84 L152.5 109.07 L153.56 108.3 L154.68 107.6 L155.71 106.8 L156.73 105.99 L157.79 105.23 L158.83 104.42 L159.83 103.58 L160.83 102.74 L161.82 101.9 L162.82 101.05 L163.82 100.21 L164.81 99.37 L165.81 98.52 L166.81 97.68 L167.8 96.84 L168.8 95.99 L169.67 94.99 L170.52 93.98 L171.61 93.25 L172.7 92.51 L173.74 91.72 L174.68 90.81 L175.54 89.81 L176.32 88.7 L177.54 88.12 L178.66 87.43 L179.72 86.66 L180.64 85.72 L181.35 84.53 L182.07 83.36 L183.11 82.58 L184.21 81.85 L185.26 81.07 L186.54 80.56 L187.75 79.97 L188.74 79.13 L189.74 78.28 L190.74 77.44 L191.74 76.6 L192.68 75.68 L193.42 74.53 L194.08 73.29 L195.28 72.69 L196.52 72.14 L197.6 71.39 L198.49 70.43 L199.15 69.18 L199.91 68.05 L201.17 67.52 L202.51 67.09 L203.63 66.39 L204.69 65.62 L205.7 64.8 L206.7 63.95 L207.7 63.11 L208.53 62.07 L209.4 61.07 L210.36 60.19 L211.27 59.24 L212.2 58.31 L213.35 57.66 L214.59 57.1 L215.68 56.37 L216.68 55.53 L217.68 54.68 L218.67 53.84 L219.67 53 L220.67 52.16 L221.63 51.27 L222.46 50.23 L223.07 48.92 L223.79 47.75 L224.87 47.01 L226.04 46.37 L227.12 45.62 L228.31 45.01 L229.65 44.57 L230.65 43.73 L231.65 42.89 L232.64 42.05 L233.64 41.2 L234.64 40.36 L235.64 39.52 L236.64 38.68 L237.64 37.84 L238.63 36.99 L239.63 36.15 L240.63 35.31 L241.21 33.97 L241.94 32.81 L243.16 32.23 L244.58 31.89 L245.62 31.1 L246.62 30.26 L247.38 29.14 L248.24 28.13 L249.28 27.34 L250.36 26.59 L251.4 25.8 L252.5 25.07 L253.62 24.37 L254.62 23.53 L255.58 22.65 L256.19 21.34 L256.99 20.27 L258.21 19.69 L259.62 19.33 L260.62 18.49 L261.62 17.65 L262.31 16.44 L263.12 15.38 L264.31 14.77 L265.62 14.29 L266.62 13.45 L267.62 12.61 L268.55 11.7 L269.44 10.73 L270.52 9.97 L271.62 9.25 L272.62 8.41 L273.62 7.57 L274.62 6.73 L275.62 5.89 L276.41 4.8 L276.9 3.36 L277.65 2.22 L278.71 1.45 L279.83 0.76 L280.89 -0.01 L282.07 -0.64 L283.43 -1.05 L284.61 -1.67 L285.4 -2.76 L285.98 -4.1 L286.77 -5.19 L292.55 1.69 L291.38 2.33 L290.04 2.76 L288.87 3.39 L288.04 4.44 L287.38 5.69 L286.56 6.73 L285.38 7.37 L284.03 7.79 L282.86 8.42 L281.79 9.18 L280.65 9.85 L279.61 10.64 L278.61 11.48 L277.61 12.32 L276.61 13.16 L275.61 14 L274.75 15.01 L273.84 15.96 L272.69 16.62 L271.61 17.36 L270.61 18.2 L269.61 19.04 L268.88 20.21 L268.09 21.3 L266.99 22.02 L265.78 22.6 L264.67 23.32 L263.65 24.13 L262.61 24.92 L261.61 25.76 L260.61 26.6 L259.61 27.44 L258.59 28.26 L257.57 29.08 L256.89 30.3 L256.11 31.4 L254.91 32 L253.52 32.38 L252.49 33.18 L251.47 34 L250.67 35.07 L249.77 36.04 L248.59 36.66 L247.38 37.25 L246.35 38.06 L245.33 38.88 L244.71 40.17 L243.91 41.25 L242.75 41.89 L241.48 42.41 L240.33 43.07 L239.32 43.9 L238.32 44.74 L237.31 45.56 L236.22 46.3 L235.11 47.01 L234.08 47.82 L233.06 48.63 L232.2 49.64 L231.26 50.55 L230.21 51.33 L229.14 52.08 L228.09 52.87 L227.17 53.8 L226.35 54.86 L225.49 55.86 L224.19 56.35 L222.85 56.78 L221.84 57.61 L220.83 58.44 L219.91 59.37 L219.02 60.34 L218.08 61.26 L217.22 62.27 L216.35 63.26 L215.2 63.92 L214.05 64.58 L212.97 65.33 L211.93 66.12 L210.86 66.87 L209.82 67.66 L208.78 68.46 L207.75 69.26 L206.74 70.09 L205.74 70.93 L204.73 71.76 L203.72 72.59 L202.72 73.42 L201.89 74.47 L200.98 75.42 L199.97 76.25 L198.97 77.08 L197.96 77.91 L196.89 78.67 L195.77 79.37 L194.7 80.13 L193.7 80.96 L192.69 81.79 L191.68 82.62 L190.72 83.51 L189.81 84.45 L188.84 85.33 L187.9 86.24 L187.19 87.43 L186.33 88.43 L185.31 89.25 L184.29 90.07 L183.28 90.89 L182.15 91.58 L180.91 92.13 L179.78 92.82 L178.68 93.54 L177.54 94.22 L176.54 95.05 L175.53 95.88 L174.52 96.71 L173.55 97.59 L172.56 98.43 L171.57 99.29 L170.57 100.13 L169.57 100.97 L168.59 101.83 L167.59 102.67 L166.56 103.48 L165.52 104.27 L164.49 105.08 L163.48 105.91 L162.47 106.73 L161.46 107.56 L160.49 108.43 L159.55 109.35 L158.72 110.39 L157.51 110.98 L156.4 111.69 L155.38 112.5 L154.37 113.34 L153.37 114.17 L152.36 115 L151.35 115.83 L150.41 116.73 L149.44 117.61 L148.4 118.4 L147.32 119.15 L146.31 119.98 L145.31 120.81 L144.34 121.7 L143.36 122.56 L142.33 123.37 L141.29 124.16 L140.27 124.97 L139.26 125.8 L138.25 126.63 L137.24 127.46 L136.24 128.29 L135.24 129.13 L134.24 129.98 L133.22 130.79 L132.2 131.61 L131.2 132.44 L130.19 133.28 L129.26 134.2 L128.62 135.47 L127.62 136.31 L126.65 137.18 L125.65 138.03 L124.25 138.39 L123.13 139.09 L122.12 139.92 L121.12 140.75 L120.12 141.59 L119.12 142.43 L118.11 143.27 L117.26 144.28 L116.42 145.31 L115.09 145.76 L114.06 146.56 L113.05 147.39 L112.04 148.22 L111.04 149.05 L110.03 149.88 L109.02 150.71 L108.02 151.55 L107.2 152.61 L106.01 153.23 L104.99 154.04 L103.98 154.86 L102.97 155.69 L101.96 156.52 L100.95 157.35 L99.95 158.19 L98.95 159.03 L97.95 159.87 L96.95 160.71 L95.95 161.55 L94.95 162.39 L93.95 163.23 L92.95 164.07 L92.1 165.08 L90.95 165.75 L89.95 166.59 L88.95 167.43 L87.95 168.27 L86.95 169.11 L86.23 170.28 L84.95 170.79 L83.95 171.63 L82.95 172.47 L81.95 173.31 L80.95 174.15 L79.95 174.99 L78.95 175.83 L77.95 176.67 L76.95 177.51 L75.95 178.35 L74.95 179.19 L73.95 180.03 L72.95 180.87 L71.95 181.71 L70.95 182.55 L69.95 183.39 L68.95 184.23 L67.95 185.07 L66.95 185.91 L65.95 186.75 L64.95 187.59 L63.95 188.43 L63.04 189.37 L62.08 190.27 L60.95 190.95 L59.95 191.79 L58.95 192.63 L57.95 193.47 L56.95 194.31 L55.95 195.15 L54.95 195.99 L53.95 196.83 L52.95 197.67 L51.95 198.51 L50.95 199.35 L49.95 200.19 L48.95 201.03 L47.95 201.87 L46.95 202.71 L45.95 203.55 L44.95 204.39 L43.95 205.23 L42.95 206.07 L41.95 206.91 L40.95 207.75Z" fill="#0070ff"/>
<path d="M39.08 205.53 L40.08 204.69 L41.08 203.85 L42.08 203.01 L43.08 202.17 L43.96 201.18 L44.86 200.22 L45.99 199.53 L47.08 198.81 L48.08 197.97 L49.08 197.13 L50.08 196.29 L51.08 195.45 L52.08 194.61 L53.08 193.77 L54.08 192.93 L55.08 192.09 L56.08 191.25 L57.08 190.41 L58.08 189.57 L59.08 188.73 L60.08 187.89 L61.08 187.05 L62.08 186.21 L63.08 185.37 L64.08 184.53 L65.05 183.65 L66 182.75 L67.08 182.01 L68.08 181.17 L69.08 180.33 L70.08 179.49 L71.08 178.65 L72.08 177.81 L73.08 176.97 L74.08 176.13 L75.08 175.29 L76.08 174.45 L77.08 173.61 L77.99 172.65 L79.02 171.85 L80.08 171.09 L81.08 170.25 L82.08 169.41 L83.08 168.57 L84.08 167.73 L85.08 166.89 L86.06 166.02 L86.79 164.86 L87.8 164.03 L88.81 163.2 L89.81 162.36 L90.9 161.63 L92.07 161 L93.08 160.17 L94.08 159.33 L95.08 158.49 L96.08 157.65 L97.08 156.81 L98.08 155.97 L99.08 155.13 L100.08 154.28 L101.07 153.44 L102.07 152.59 L103.07 151.75 L104.06 150.9 L105.06 150.06 L106.05 149.21 L107.05 148.37 L108.05 147.53 L109.05 146.68 L110.04 145.84 L111.04 145 L112.04 144.15 L113.03 143.31 L114.03 142.47 L115.03 141.62 L116.02 140.78 L117.02 139.93 L118.02 139.09 L119.01 138.24 L120 137.39 L121 136.55 L121.99 135.7 L122.99 134.86 L123.98 134 L124.94 133.11 L125.8 132.11 L126.9 131.39 L127.96 130.62 L128.96 129.78 L129.95 128.93 L130.94 128.08 L131.93 127.23 L132.93 126.39 L133.94 125.56 L134.94 124.72 L135.93 123.86 L136.91 123.01 L137.9 122.15 L138.91 121.32 L139.92 120.49 L140.92 119.66 L141.93 118.82 L142.94 117.99 L143.94 117.16 L144.91 116.28 L145.72 115.22 L146.47 114.08 L147.47 113.23 L148.46 112.39 L149.46 111.54 L150.5 110.76 L151.61 110.04 L152.66 109.26 L153.7 108.47 L154.78 107.73 L155.8 106.92 L156.82 106.1 L157.87 105.31 L158.89 104.5 L159.89 103.66 L160.89 102.82 L161.89 101.98 L162.89 101.13 L163.88 100.29 L164.88 99.45 L165.88 98.6 L166.87 97.76 L167.87 96.92 L168.87 96.07 L169.77 95.11 L170.66 94.15 L171.73 93.39 L172.79 92.62 L173.82 91.82 L174.78 90.92 L175.68 89.97 L176.51 88.93 L177.67 88.28 L178.76 87.55 L179.81 86.76 L180.74 85.85 L181.53 84.75 L182.32 83.67 L183.36 82.87 L184.43 82.11 L185.46 81.31 L186.67 80.72 L187.82 80.06 L188.82 79.22 L189.82 78.37 L190.82 77.53 L191.81 76.69 L192.77 75.79 L193.58 74.72 L194.33 73.59 L195.47 72.92 L196.65 72.29 L197.71 71.52 L198.63 70.59 L199.38 69.45 L200.2 68.4 L201.39 67.79 L202.64 67.25 L203.73 66.51 L204.77 65.72 L205.78 64.89 L206.78 64.05 L207.78 63.2 L208.65 62.22 L209.56 61.26 L210.53 60.39 L211.46 59.47 L212.41 58.56 L213.52 57.86 L214.69 57.23 L215.76 56.47 L216.76 55.62 L217.76 54.78 L218.76 53.94 L219.75 53.1 L220.75 52.25 L221.72 51.38 L222.6 50.39 L223.31 49.21 L224.11 48.12 L225.16 47.35 L226.29 46.66 L227.34 45.89 L228.48 45.22 L229.73 44.67 L230.73 43.83 L231.73 42.99 L232.73 42.15 L233.73 41.3 L234.72 40.46 L235.72 39.62 L236.72 38.78 L237.72 37.94 L238.72 37.09 L239.72 36.25 L240.71 35.41 L241.41 34.2 L242.21 33.13 L243.37 32.47 L244.67 32 L245.71 31.2 L246.7 30.36 L247.53 29.31 L248.43 28.35 L249.46 27.54 L250.51 26.77 L251.54 25.97 L252.61 25.21 L253.7 24.47 L254.7 23.63 L255.67 22.76 L256.39 21.58 L257.24 20.57 L258.4 19.92 L259.7 19.43 L260.7 18.59 L261.7 17.75 L262.47 16.64 L263.34 15.64 L264.48 14.97 L265.7 14.39 L266.7 13.55 L267.7 12.71 L268.65 11.82 L269.57 10.88 L270.63 10.11 L271.7 9.35 L272.7 8.51 L273.7 7.67 L274.7 6.83 L275.7 5.99 L276.55 4.97 L277.17 3.69 L277.99 2.63 L279.03 1.84 L280.12 1.1 L281.17 0.32 L282.3 -0.37 L283.56 -0.89 L284.7 -1.57 L285.54 -2.6 L286.23 -3.8 L287.08 -4.83 L292.06 1.1 L290.93 1.79 L289.68 2.33 L288.55 3.02 L287.68 4.01 L286.93 5.15 L286.06 6.14 L284.93 6.83 L283.68 7.37 L282.55 8.05 L281.5 8.83 L280.39 9.55 L279.36 10.35 L278.36 11.19 L277.36 12.03 L276.36 12.87 L275.36 13.71 L274.46 14.67 L273.53 15.59 L272.42 16.3 L271.36 17.07 L270.36 17.91 L269.36 18.75 L268.56 19.83 L267.72 20.86 L266.64 21.6 L265.49 22.26 L264.41 23.01 L263.39 23.82 L262.36 24.63 L261.36 25.47 L260.36 26.31 L259.36 27.15 L258.34 27.97 L257.33 28.79 L256.56 29.9 L255.71 30.93 L254.56 31.59 L253.27 32.08 L252.24 32.89 L251.22 33.71 L250.36 34.72 L249.44 35.64 L248.3 36.32 L247.14 36.96 L246.12 37.78 L245.09 38.59 L244.37 39.76 L243.51 40.77 L242.39 41.46 L241.18 42.06 L240.07 42.76 L239.06 43.59 L238.05 44.42 L237.04 45.24 L235.97 46 L234.88 46.74 L233.86 47.55 L232.84 48.37 L231.94 49.33 L230.98 50.21 L229.93 51 L228.87 51.77 L227.83 52.56 L226.89 53.47 L226.02 54.46 L225.11 55.42 L223.89 55.99 L222.64 56.53 L221.63 57.36 L220.63 58.2 L219.68 59.1 L218.76 60.03 L217.8 60.93 L216.91 61.89 L216 62.84 L214.89 63.56 L213.78 64.26 L212.72 65.03 L211.69 65.83 L210.64 66.61 L209.61 67.41 L208.58 68.22 L207.56 69.03 L206.55 69.87 L205.55 70.7 L204.54 71.53 L203.54 72.37 L202.53 73.2 L201.65 74.19 L200.72 75.11 L199.72 75.94 L198.71 76.78 L197.71 77.61 L196.66 78.39 L195.56 79.12 L194.52 79.91 L193.51 80.74 L192.5 81.57 L191.5 82.4 L190.53 83.28 L189.59 84.19 L188.62 85.06 L187.66 85.95 L186.87 87.05 L185.97 88.01 L184.96 88.83 L183.94 89.65 L182.93 90.48 L181.84 91.21 L180.66 91.84 L179.57 92.56 L178.49 93.31 L177.39 94.04 L176.38 94.87 L175.38 95.7 L174.37 96.53 L173.4 97.4 L172.4 98.24 L171.41 99.09 L170.41 99.93 L169.41 100.78 L168.42 101.63 L167.42 102.47 L166.4 103.29 L165.37 104.09 L164.35 104.9 L163.34 105.74 L162.33 106.56 L161.32 107.4 L160.34 108.26 L159.39 109.15 L158.51 110.14 L157.36 110.8 L156.27 111.54 L155.26 112.36 L154.26 113.19 L153.25 114.03 L152.24 114.86 L151.24 115.69 L150.28 116.58 L149.3 117.45 L148.27 118.25 L147.21 119.02 L146.21 119.86 L145.2 120.69 L144.23 121.56 L143.24 122.42 L142.22 123.23 L141.19 124.04 L140.17 124.85 L139.16 125.69 L138.16 126.52 L137.15 127.35 L136.15 128.18 L135.15 129.02 L134.15 129.87 L133.13 130.69 L132.12 131.51 L131.11 132.35 L130.11 133.18 L129.16 134.08 L128.42 135.23 L127.43 136.08 L126.44 136.94 L125.45 137.78 L124.15 138.27 L123.06 139.01 L122.06 139.84 L121.05 140.67 L120.05 141.51 L119.05 142.35 L118.05 143.19 L117.15 144.15 L116.27 145.13 L115.03 145.68 L114.01 146.5 L113 147.33 L111.99 148.16 L110.99 148.99 L109.98 149.83 L108.97 150.66 L107.97 151.5 L107.1 152.49 L105.97 153.17 L104.95 153.99 L103.94 154.82 L102.93 155.65 L101.93 156.48 L100.92 157.31 L99.92 158.15 L98.92 158.99 L97.92 159.83 L96.92 160.67 L95.92 161.51 L94.92 162.35 L93.92 163.19 L92.92 164.03 L92.03 165 L90.92 165.71 L89.92 166.55 L88.92 167.39 L87.92 168.23 L86.92 169.07 L86.12 170.16 L84.92 170.75 L83.92 171.59 L82.92 172.43 L81.92 173.27 L80.92 174.11 L79.92 174.95 L78.92 175.79 L77.92 176.63 L76.92 177.47 L75.92 178.31 L74.92 179.15 L73.92 179.99 L72.92 180.83 L71.92 181.67 L70.92 182.51 L69.92 183.35 L68.92 184.19 L67.92 185.03 L66.92 185.87 L65.92 186.71 L64.92 187.55 L63.92 188.39 L62.98 189.31 L62.02 190.19 L60.92 190.91 L59.92 191.75 L58.92 192.59 L57.92 193.43 L56.92 194.27 L55.92 195.11 L54.92 195.95 L53.92 196.79 L52.92 197.63 L51.92 198.47 L50.92 199.31 L49.92 200.15 L48.92 200.99 L47.92 201.83 L46.92 202.67 L45.92 203.51 L44.92 204.35 L43.92 205.19 L42.92 206.03 L41.92 206.87 L40.92 207.71Z" fill="#0828ff"/>
<ellipse cx="205.01" cy="64.99" rx="9.12" ry="2.25" fill="#f4f400" transform="rotate(-40.2 205.01 64.99)"/>
<ellipse cx="205.01" cy="64.99" rx="8.73" ry="1.95" fill="#00f000" transform="rotate(-40.2 205.01 64.99)"/>
<ellipse cx="205.01" cy="64.99" rx="8.28" ry="1.6" fill="#00f8e0" transform="rotate(-40.2 205.01 64.99)"/>
<ellipse cx="205.01" cy="64.99" rx="7.86" ry="1.28" fill="#0070ff" transform="rotate(-40.2 205.01 64.99)"/>
<ellipse cx="205.01" cy="64.99" rx="7.5" ry="1" fill="#0828ff" transform="rotate(-40.2 205.01 64.99)"/>
<ellipse cx="231.03" cy="49.26" rx="9.62" ry="2.4" fill="#f4f400" transform="rotate(-40.2 231.03 49.26)"/>
<ellipse cx="231.03" cy="49.26" rx="9.23" ry="2.1" fill="#00f000" transform="rotate(-40.2 231.03 49.26)"/>
<ellipse cx="231.03" cy="49.26" rx="8.78" ry="1.75" fill="#00f8e0" transform="rotate(-40.2 231.03 49.26)"/>
<ellipse cx="231.03" cy="49.26" rx="8.36" ry="1.43" fill="#0070ff" transform="rotate(-40.2 231.03 49.26)"/>
<ellipse cx="231.03" cy="49.26" rx="8" ry="1.15" fill="#0828ff" transform="rotate(-40.2 231.03 49.26)"/>
<ellipse cx="248.98" cy="27.99" rx="7.62" ry="2.3" fill="#f4f400" transform="rotate(-40.2 248.98 27.99)"/>
<ellipse cx="248.98" cy="27.99" rx="7.23" ry="2" fill="#00f000" transform="rotate(-40.2 248.98 27.99)"/>
<ellipse cx="248.98" cy="27.99" rx="6.78" ry="1.65" fill="#00f8e0" transform="rotate(-40.2 248.98 27.99)"/>
<ellipse cx="248.98" cy="27.99" rx="6.36" ry="1.33" fill="#0070ff" transform="rotate(-40.2 248.98 27.99)"/>
<ellipse cx="248.98" cy="27.99" rx="6" ry="1.05" fill="#0828ff" transform="rotate(-40.2 248.98 27.99)"/>
<ellipse cx="264.06" cy="21.58" rx="8.62" ry="2.55" fill="#f4f400" transform="rotate(-40.2 264.06 21.58)"/>
<ellipse cx="264.06" cy="21.58" rx="8.23" ry="2.25" fill="#00f000" transform="rotate(-40.2 264.06 21.58)"/>
<ellipse cx="264.06" cy="21.58" rx="7.78" ry="1.9" fill="#00f8e0" transform="rotate(-40.2 264.06 21.58)"/>
<ellipse cx="264.06" cy="21.58" rx="7.36" ry="1.58" fill="#0070ff" transform="rotate(-40.2 264.06 21.58)"/>
<ellipse cx="264.06" cy="21.58" rx="7" ry="1.3" fill="#0828ff" transform="rotate(-40.2 264.06 21.58)"/>
<ellipse cx="241.44" cy="34.25" rx="4.22" ry="2.55" fill="#f4f400" transform="rotate(-40.2 241.44 34.25)"/>
<ellipse cx="241.44" cy="34.25" rx="3.83" ry="2.25" fill="#00f000" transform="rotate(-40.2 241.44 34.25)"/>
<ellipse cx="241.44" cy="34.25" rx="3.38" ry="1.9" fill="#00f8e0" transform="rotate(-40.2 241.44 34.25)"/>
<ellipse cx="241.44" cy="34.25" rx="2.96" ry="1.58" fill="#0070ff" transform="rotate(-40.2 241.44 34.25)"/>
<ellipse cx="241.44" cy="34.25" rx="2.6" ry="1.3" fill="#0828ff" transform="rotate(-40.2 241.44 34.25)"/>
<ellipse cx="249.11" cy="34.23" rx="4.42" ry="2.85" fill="#f4f400" transform="rotate(-40.2 249.11 34.23)"/>
<ellipse cx="249.11" cy="34.23" rx="4.04" ry="2.55" fill="#00f000" transform="rotate(-40.2 249.11 34.23)"/>
<ellipse cx="249.11" cy="34.23" rx="3.58" ry="2.2" fill="#00f8e0" transform="rotate(-40.2 249.11 34.23)"/>
<ellipse cx="249.11" cy="34.23" rx="3.16" ry="1.88" fill="#0070ff" transform="rotate(-40.2 249.11 34.23)"/>
<ellipse cx="249.11" cy="34.23" rx="2.8" ry="1.6" fill="#0828ff" transform="rotate(-40.2 249.11 34.23)"/>
<ellipse cx="189.46" cy="84.04" rx="7.62" ry="2.15" fill="#f4f400" transform="rotate(-40.2 189.46 84.04)"/>
<ellipse cx="189.46" cy="84.04" rx="7.23" ry="1.85" fill="#00f000" transform="rotate(-40.2 189.46 84.04)"/>
<ellipse cx="189.46" cy="84.04" rx="6.78" ry="1.5" fill="#00f8e0" transform="rotate(-40.2 189.46 84.04)"/>
<ellipse cx="189.46" cy="84.04" rx="6.36" ry="1.18" fill="#0070ff" transform="rotate(-40.2 189.46 84.04)"/>
<ellipse cx="189.46" cy="84.04" rx="6" ry="0.9" fill="#0828ff" transform="rotate(-40.2 189.46 84.04)"/>
<ellipse cx="170.56" cy="94.03" rx="6.44" ry="1.91" fill="#f4f400" transform="rotate(-40.2 170.56 94.03)"/>
<ellipse cx="170.56" cy="94.03" rx="6.1" ry="1.64" fill="#00f000" transform="rotate(-40.2 170.56 94.03)"/>
<ellipse cx="170.56" cy="94.03" rx="5.69" ry="1.33" fill="#00f8e0" transform="rotate(-40.2 170.56 94.03)"/>
<ellipse cx="170.56" cy="94.03" rx="5.32" ry="1.05" fill="#0070ff" transform="rotate(-40.2 170.56 94.03)"/>
<ellipse cx="170.56" cy="94.03" rx="5" ry="0.8" fill="#0828ff" transform="rotate(-40.2 170.56 94.03)"/>
<ellipse cx="156.42" cy="111.71" rx="5.35" ry="1.79" fill="#f4f400" transform="rotate(-40.2 156.42 111.71)"/>
<ellipse cx="156.42" cy="111.71" rx="5.03" ry="1.54" fill="#00f000" transform="rotate(-40.2 156.42 111.71)"/>
<ellipse cx="216.53" cy="61.44" rx="4.22" ry="2.45" fill="#f4f400" transform="rotate(-40.2 216.53 61.44)"/>
<ellipse cx="216.53" cy="61.44" rx="3.83" ry="2.15" fill="#00f000" transform="rotate(-40.2 216.53 61.44)"/>
<ellipse cx="216.53" cy="61.44" rx="3.38" ry="1.8" fill="#00f8e0" transform="rotate(-40.2 216.53 61.44)"/>
<ellipse cx="216.53" cy="61.44" rx="2.96" ry="1.48" fill="#0070ff" transform="rotate(-40.2 216.53 61.44)"/>
<ellipse cx="216.53" cy="61.44" rx="2.6" ry="1.2" fill="#0828ff" transform="rotate(-40.2 216.53 61.44)"/>
<ellipse cx="234.48" cy="40.17" rx="4.22" ry="2.35" fill="#f4f400" transform="rotate(-40.2 234.48 40.17)"/>
<ellipse cx="234.48" cy="40.17" rx="3.83" ry="2.05" fill="#00f000" transform="rotate(-40.2 234.48 40.17)"/>
<ellipse cx="234.48" cy="40.17" rx="3.38" ry="1.7" fill="#00f8e0" transform="rotate(-40.2 234.48 40.17)"/>
<ellipse cx="234.48" cy="40.17" rx="2.96" ry="1.38" fill="#0070ff" transform="rotate(-40.2 234.48 40.17)"/>
<ellipse cx="234.48" cy="40.17" rx="2.6" ry="1.1" fill="#0828ff" transform="rotate(-40.2 234.48 40.17)"/>
<ellipse cx="259.58" cy="25.38" rx="4.22" ry="2.65" fill="#f4f400" transform="rotate(-40.2 259.58 25.38)"/>
<ellipse cx="259.58" cy="25.38" rx="3.83" ry="2.35" fill="#00f000" transform="rotate(-40.2 259.58 25.38)"/>
<ellipse cx="259.58" cy="25.38" rx="3.38" ry="2" fill="#00f8e0" transform="rotate(-40.2 259.58 25.38)"/>
<ellipse cx="259.58" cy="25.38" rx="2.96" ry="1.68" fill="#0070ff" transform="rotate(-40.2 259.58 25.38)"/>
<ellipse cx="259.58" cy="25.38" rx="2.6" ry="1.4" fill="#0828ff" transform="rotate(-40.2 259.58 25.38)"/>
<ellipse cx="51.32" cy="199.8" rx="1.98" ry="0.75" fill="#f4f400" transform="rotate(-40.2 51.32 199.8)"/>
<ellipse cx="51.32" cy="199.8" rx="1.85" ry="0.64" fill="#00f000" transform="rotate(-40.2 51.32 199.8)"/>
<ellipse cx="60.37" cy="186.84" rx="2.01" ry="0.61" fill="#f4f400" transform="rotate(-40.2 60.37 186.84)"/>
<ellipse cx="60.37" cy="186.84" rx="1.9" ry="0.53" fill="#00f000" transform="rotate(-40.2 60.37 186.84)"/>
<ellipse cx="69.41" cy="179.2" rx="2.07" ry="0.95" fill="#f4f400" transform="rotate(-40.2 69.41 179.2)"/>
<ellipse cx="69.41" cy="179.2" rx="1.9" ry="0.82" fill="#00f000" transform="rotate(-40.2 69.41 179.2)"/>
<ellipse cx="79.2" cy="176.4" rx="1.74" ry="0.89" fill="#f4f400" transform="rotate(-40.2 79.2 176.4)"/>
<ellipse cx="79.2" cy="176.4" rx="1.58" ry="0.76" fill="#00f000" transform="rotate(-40.2 79.2 176.4)"/>
<ellipse cx="88.86" cy="168.29" rx="1.7" ry="0.86" fill="#f4f400" transform="rotate(-40.2 88.86 168.29)"/>
<ellipse cx="88.86" cy="168.29" rx="1.55" ry="0.74" fill="#00f000" transform="rotate(-40.2 88.86 168.29)"/>
<ellipse cx="97.71" cy="155.4" rx="1.88" ry="1.15" fill="#f4f400" transform="rotate(-40.2 97.71 155.4)"/>
<ellipse cx="97.71" cy="155.4" rx="1.67" ry="0.99" fill="#00f000" transform="rotate(-40.2 97.71 155.4)"/>
<ellipse cx="107.66" cy="152.49" rx="1.64" ry="0.87" fill="#f4f400" transform="rotate(-40.2 107.66 152.49)"/>
<ellipse cx="107.66" cy="152.49" rx="1.49" ry="0.75" fill="#00f000" transform="rotate(-40.2 107.66 152.49)"/>
<ellipse cx="119" cy="143.06" rx="2.1" ry="1.39" fill="#f4f400" transform="rotate(-40.2 119 143.06)"/>
<ellipse cx="119" cy="143.06" rx="1.85" ry="1.2" fill="#00f000" transform="rotate(-40.2 119 143.06)"/>
<ellipse cx="130.29" cy="133.56" rx="2.53" ry="1.27" fill="#f4f400" transform="rotate(-40.2 130.29 133.56)"/>
<ellipse cx="130.29" cy="133.56" rx="2.3" ry="1.09" fill="#00f000" transform="rotate(-40.2 130.29 133.56)"/>
<ellipse cx="140.54" cy="124.99" rx="2.64" ry="1.43" fill="#f4f400" transform="rotate(-40.2 140.54 124.99)"/>
<ellipse cx="140.54" cy="124.99" rx="2.38" ry="1.23" fill="#00f000" transform="rotate(-40.2 140.54 124.99)"/>
<ellipse cx="149.57" cy="111.76" rx="2.12" ry="1.33" fill="#f4f400" transform="rotate(-40.2 149.57 111.76)"/>
<ellipse cx="149.57" cy="111.76" rx="1.87" ry="1.15" fill="#00f000" transform="rotate(-40.2 149.57 111.76)"/>
<ellipse cx="159.77" cy="108.85" rx="1.97" ry="1.35" fill="#f4f400" transform="rotate(-40.2 159.77 108.85)"/>
<ellipse cx="159.77" cy="108.85" rx="1.72" ry="1.16" fill="#00f000" transform="rotate(-40.2 159.77 108.85)"/>
<ellipse cx="169.6" cy="100.61" rx="2.46" ry="1.44" fill="#f4f400" transform="rotate(-40.2 169.6 100.61)"/>
<ellipse cx="169.6" cy="100.61" rx="2.2" ry="1.24" fill="#00f000" transform="rotate(-40.2 169.6 100.61)"/>
<ellipse cx="174.98" cy="90.37" rx="2.36" ry="1.48" fill="#f4f400" transform="rotate(-40.2 174.98 90.37)"/>
<ellipse cx="174.98" cy="90.37" rx="2.09" ry="1.27" fill="#00f000" transform="rotate(-40.2 174.98 90.37)"/>
<path d="M270 8 L292.8 8 L292.6 10.7 L288 11 L285.3 12.8 L282.6 15.2 L278.2 17.8 L274 20.8 L268 16Z" fill="#00e800"/>
<path d="M270 8 L290.6 8 L290.2 9.9 L286.6 10.3 L284.5 12 L281.9 14.4 L277.7 17 L274 19.8 L268 15Z" fill="#00f4e4"/>
<path d="M270 8 L284.2 8 L283.8 10 L281.3 13.4 L277.3 16 L273.5 18.6 L268 14Z" fill="#0828ff"/>
<path d="M38.73 205.1 L39.73 204.26 L40.73 203.42 L41.73 202.58 L42.73 201.74 L43.73 200.9 L44.73 200.06 L45.73 199.22 L46.73 198.38 L47.73 197.54 L48.73 196.7 L49.73 195.86 L50.73 195.02 L51.73 194.18 L52.73 193.34 L53.73 192.5 L54.73 191.66 L55.73 190.82 L56.73 189.98 L57.73 189.14 L58.73 188.3 L59.73 187.46 L60.73 186.62 L61.73 185.78 L62.73 184.94 L63.73 184.1 L64.73 183.26 L65.73 182.42 L66.73 181.58 L67.7 180.72 L68.67 179.84 L69.67 179 L70.67 178.15 L71.66 177.31 L72.66 176.47 L73.66 175.62 L74.66 174.78 L75.67 173.96 L76.72 173.18 L77.73 172.34 L78.73 171.5 L79.73 170.66 L80.73 169.82 L81.73 168.98 L82.73 168.14 L83.73 167.3 L84.73 166.46 L85.73 165.62 L86.73 164.78 L87.73 163.94 L88.73 163.1 L89.73 162.26 L90.73 161.42 L91.73 160.58 L92.73 159.74 L93.73 158.9 L94.73 158.06 L95.73 157.22 L96.73 156.38 L97.73 155.54 L98.73 154.7 L99.73 153.86 L100.73 153.02 L101.73 152.18 L102.73 151.34 L103.73 150.5 L104.72 149.66 L105.72 148.82 L106.72 147.98 L107.72 147.14 L108.72 146.3 L109.72 145.46 L110.72 144.61 L111.72 143.77 L112.72 142.94 L113.72 142.1 L114.72 141.26 L115.72 140.42 L116.72 139.58 L117.72 138.74 L118.72 137.9 L119.72 137.05 L120.71 136.2 L121.69 135.34 L122.65 134.46 L123.68 133.65 L124.71 132.84 L125.71 132.01 L126.72 131.17 L127.72 130.34 L128.72 129.5 L129.72 128.66 L130.72 127.82 L131.72 126.98 L132.72 126.14 L133.72 125.3 L134.72 124.46 L135.72 123.62 L136.72 122.78 L137.72 121.94 L138.72 121.1 L139.72 120.26 L140.72 119.42 L141.72 118.58 L142.72 117.74 L143.7 116.87 L144.66 115.99 L145.55 115.01 L146.5 114.12 L147.52 113.29 L148.55 112.49 L149.59 111.7 L150.63 110.91 L151.66 110.1 L152.67 109.27 L153.66 108.43 L154.64 107.57 L155.62 106.7 L156.6 105.83 L157.59 104.98 L158.58 104.13 L159.59 103.3 L160.62 102.49 L161.66 101.7 L162.67 100.88 L163.68 100.04 L164.68 99.21 L165.68 98.37 L166.7 97.55 L167.71 96.73 L168.72 95.89 L169.72 95.05 L170.72 94.21 L171.72 93.37 L172.72 92.53 L173.72 91.69 L174.72 90.85 L175.71 90.01 L176.71 89.17 L177.71 88.32 L178.7 87.48 L179.7 86.63 L180.69 85.78 L181.69 84.94 L182.68 84.09 L183.69 83.26 L184.7 82.43 L185.71 81.61 L186.71 80.77 L187.71 79.93 L188.71 79.09 L189.71 78.25 L190.71 77.4 L191.67 76.52 L192.63 75.63 L193.56 74.7 L194.53 73.83 L195.55 73.01 L196.6 72.23 L197.65 71.45 L198.67 70.64 L199.69 69.82 L200.7 68.99 L201.7 68.15 L202.71 67.32 L203.71 66.49 L204.71 65.65 L205.71 64.81 L206.71 63.97 L207.71 63.13 L208.71 62.28 L209.67 61.4 L210.64 60.52 L211.6 59.63 L212.58 58.77 L213.6 57.95 L214.64 57.16 L215.67 56.36 L216.71 55.56 L217.71 54.72 L218.71 53.88 L219.71 53.04 L220.7 52.2 L221.66 51.3 L222.61 50.4 L223.55 49.5 L224.53 48.63 L225.54 47.81 L226.58 47 L227.61 46.21 L228.64 45.4 L229.66 44.59 L230.67 43.76 L231.67 42.91 L232.66 42.07 L233.66 41.22 L234.65 40.37 L235.64 39.53 L236.64 38.68 L237.64 37.85 L238.65 37.02 L239.67 36.19 L240.68 35.37 L241.69 34.54 L242.7 33.71 L243.69 32.86 L244.68 32.01 L245.67 31.16 L246.66 30.31 L247.66 29.46 L248.65 28.62 L249.66 27.78 L250.67 26.96 L251.7 26.15 L252.71 25.32 L253.71 24.48 L254.71 23.64 L255.71 22.8 L256.71 21.96 L257.71 21.12 L258.71 20.28 L259.71 19.44 L260.71 18.6 L261.71 17.76 L262.71 16.92 L263.66 16.03 L264.6 15.12 L265.56 14.23 L266.55 13.37 L267.56 12.54 L268.59 11.74 L269.64 10.96 L270.68 10.17 L271.71 9.36 L274.29 12.44 L273.3 13.28 L272.33 14.16 L271.36 15.04 L270.39 15.91 L269.4 16.76 L268.4 17.61 L267.41 18.46 L266.42 19.31 L265.43 20.16 L264.44 21.01 L263.44 21.86 L262.43 22.68 L261.39 23.48 L260.35 24.26 L259.3 25.04 L258.29 25.88 L257.29 26.72 L256.29 27.56 L255.29 28.4 L254.32 29.27 L253.36 30.16 L252.38 31.03 L251.39 31.88 L250.4 32.72 L249.41 33.58 L248.43 34.45 L247.46 35.31 L246.47 36.17 L245.48 37.02 L244.48 37.86 L243.46 38.68 L242.45 39.51 L241.44 40.33 L240.43 41.16 L239.42 41.99 L238.41 42.82 L237.39 43.63 L236.35 44.43 L235.32 45.24 L234.3 46.05 L233.29 46.88 L232.31 47.73 L231.33 48.61 L230.37 49.49 L229.42 50.39 L228.46 51.28 L227.48 52.14 L226.46 52.96 L225.41 53.74 L224.36 54.52 L223.32 55.31 L222.29 56.12 L221.29 56.96 L220.29 57.8 L219.3 58.65 L218.32 59.51 L217.34 60.37 L216.35 61.23 L215.36 62.07 L214.36 62.92 L213.36 63.76 L212.36 64.6 L211.37 65.45 L210.37 66.29 L209.37 67.13 L208.37 67.97 L207.36 68.8 L206.35 69.63 L205.35 70.46 L204.34 71.3 L203.34 72.13 L202.34 72.98 L201.36 73.83 L200.38 74.71 L199.43 75.6 L198.46 76.48 L197.48 77.34 L196.47 78.17 L195.45 78.99 L194.43 79.8 L193.41 80.62 L192.39 81.43 L191.38 82.27 L190.39 83.11 L189.4 83.97 L188.42 84.83 L187.44 85.7 L186.46 86.56 L185.46 87.4 L184.45 88.23 L183.42 89.03 L182.37 89.81 L181.34 90.62 L180.33 91.44 L179.33 92.28 L178.33 93.12 L177.33 93.97 L176.34 94.82 L175.38 95.7 L174.4 96.57 L173.41 97.42 L172.39 98.23 L171.33 99.01 L170.31 99.82 L169.29 100.64 L168.28 101.47 L167.28 102.31 L166.28 103.15 L165.28 103.99 L164.28 104.83 L163.28 105.67 L162.28 106.51 L161.28 107.35 L160.28 108.19 L159.29 109.04 L158.3 109.88 L157.3 110.73 L156.31 111.58 L155.31 112.42 L154.31 113.26 L153.32 114.11 L152.33 114.96 L151.37 115.86 L150.41 116.74 L149.42 117.59 L148.38 118.39 L147.31 119.14 L146.29 119.96 L145.28 120.78 L144.28 121.62 L143.28 122.46 L142.28 123.3 L141.28 124.14 L140.28 124.99 L139.3 125.84 L138.3 126.69 L137.31 127.53 L136.31 128.38 L135.33 129.25 L134.37 130.13 L133.41 131.01 L132.43 131.89 L131.44 132.74 L130.43 133.57 L129.4 134.37 L128.36 135.16 L127.31 135.94 L126.3 136.76 L125.29 137.6 L124.29 138.44 L123.31 139.3 L122.36 140.19 L121.4 141.09 L120.44 141.97 L119.45 142.82 L118.43 143.64 L117.38 144.43 L116.32 145.19 L115.29 145.99 L114.28 146.83 L113.28 147.67 L112.28 148.5 L111.28 149.34 L110.28 150.18 L109.28 151.02 L108.27 151.86 L107.27 152.7 L106.27 153.54 L105.28 154.38 L104.28 155.22 L103.34 156.13 L102.43 157.08 L101.47 157.97 L100.43 158.76 L99.32 159.47 L98.27 160.26 L97.27 161.1 L96.27 161.94 L95.27 162.78 L94.27 163.62 L93.27 164.46 L92.27 165.3 L91.27 166.14 L90.37 167.09 L89.41 167.98 L88.38 168.78 L87.3 169.52 L86.27 170.34 L85.27 171.18 L84.27 172.02 L83.27 172.86 L82.27 173.7 L81.27 174.54 L80.27 175.38 L79.27 176.22 L78.27 177.06 L77.27 177.9 L76.27 178.74 L75.27 179.58 L74.27 180.42 L73.27 181.26 L72.27 182.1 L71.27 182.94 L70.27 183.78 L69.27 184.62 L68.27 185.46 L67.27 186.3 L66.27 187.14 L65.27 187.98 L64.27 188.82 L63.27 189.66 L62.27 190.5 L61.33 191.4 L60.45 192.39 L59.5 193.28 L58.45 194.06 L57.3 194.73 L56.27 195.54 L55.27 196.38 L54.27 197.22 L53.27 198.06 L52.27 198.9 L51.27 199.74 L50.27 200.58 L49.27 201.42 L48.27 202.26 L47.27 203.1 L46.27 203.94 L45.27 204.78 L44.27 205.62 L43.3 206.48 L42.42 207.47 L41.47 208.36Z" fill="#000"/>
<circle cx="273.4" cy="10.56" r="2.1" fill="#000"/>
<ellipse cx="278.5" cy="24.5" rx="2.2" ry="0.9" fill="#ffd000"/>
<ellipse cx="281.5" cy="19.5" rx="1.8" ry="0.7" fill="#ff9000"/>
</g>
<polygon points="57.5,105.3 70.5,91.9 120.7,91.9 107.8,105.3" fill="#6db5d1" stroke="#2f7d95" stroke-width="0.8" stroke-linejoin="round"/>
<polygon points="57.5,105.3 107.8,105.3 107.8,111.6 57.5,111.6" fill="#3d93ad" stroke="#2f7d95" stroke-width="0.8" stroke-linejoin="round"/>
<polygon points="107.8,105.3 120.7,91.9 120.7,98.4 107.8,111.6" fill="#33859e" stroke="#2f7d95" stroke-width="0.8" stroke-linejoin="round"/>
<polygon points="86.2,99.9 86.2,72 82.8,72 89.2,65.8 95.7,72 92.3,72 92.3,99.9" fill="#000"/>
<rect x="214.8" y="98.3" width="74.7" height="124" fill="#fff" stroke="#222" stroke-width="0.6"/>
<rect x="221.3" y="104.7" width="37.9" height="108.6" fill="#0000f4"/>
<rect x="221.3" y="111.11" width="37.9" height="102.19" fill="#0006ff"/>
<rect x="221.3" y="117.12" width="37.9" height="96.18" fill="#0048ff"/>
<rect x="221.3" y="123.13" width="37.9" height="90.17" fill="#0088ff"/>
<rect x="221.3" y="129.14" width="37.9" height="84.16" fill="#00b8ff"/>
<rect x="221.3" y="135.16" width="37.9" height="78.14" fill="#00ffff"/>
<rect x="221.3" y="141.17" width="37.9" height="72.13" fill="#00ffb8"/>
<rect x="221.3" y="147.18" width="37.9" height="66.12" fill="#00ff78"/>
<rect x="221.3" y="153.19" width="37.9" height="60.11" fill="#00ff40"/>
<rect x="221.3" y="159.2" width="37.9" height="54.1" fill="#00f018"/>
<rect x="221.3" y="165.21" width="37.9" height="48.09" fill="#50f000"/>
<rect x="221.3" y="171.22" width="37.9" height="42.08" fill="#a8f800"/>
<rect x="221.3" y="177.23" width="37.9" height="36.07" fill="#ffff00"/>
<rect x="221.3" y="183.24" width="37.9" height="30.06" fill="#ffb000"/>
<rect x="221.3" y="189.26" width="37.9" height="24.04" fill="#ff7800"/>
<rect x="221.3" y="195.27" width="37.9" height="18.03" fill="#ff4000"/>
<rect x="221.3" y="201.28" width="37.9" height="12.02" fill="#ff1800"/>
<rect x="221.3" y="207.29" width="37.9" height="6.01" fill="#ff0000"/>
<text x="261.8" y="114.45" font-size="8" textLength="25.4" lengthAdjust="spacingAndGlyphs" fill="#222">-3.5E-4</text>
<text x="261.8" y="138.95" font-size="8" textLength="25.4" lengthAdjust="spacingAndGlyphs" fill="#222">-2.9E-4</text>
<text x="261.8" y="163.35" font-size="8" textLength="25.4" lengthAdjust="spacingAndGlyphs" fill="#222">-2.2E-4</text>
<text x="261.8" y="187.75" font-size="8" textLength="25.4" lengthAdjust="spacingAndGlyphs" fill="#222">-1.6E-4</text>
<text x="261.8" y="212.15" font-size="8" textLength="25.4" lengthAdjust="spacingAndGlyphs" fill="#222">-1.0E-4</text>
<rect x="78.8" y="184.5" width="128.2" height="35.8" fill="#fff"/>
<text class="s" y="211" font-size="23"><tspan x="86.6" font-style="italic">t</tspan><tspan x="95.2" font-style="italic" font-size="15" dy="5.4">CoFeB</tspan><tspan x="144.8" dy="-5.4">=</tspan><tspan x="164.3">4</tspan><tspan x="182.8">Å</tspan></text>
<text class="s" x="59.6" y="40.7" font-size="23.5" style="fill:#fff">a)</text>
<path d="M45.5 8.2 V229.3 H295.5" fill="none" stroke="#000" stroke-width="1"/>
<path d="M45.5 8.2 H295.5 V229.3" fill="none" stroke="#000" stroke-width="1"/>
<line x1="41" x2="45.5" y1="182.9" y2="182.9" stroke="#000" stroke-width="1"/>
<text x="38.7" y="186.8" font-size="13" text-anchor="end">5</text>
<line x1="41" x2="45.5" y1="124.6" y2="124.6" stroke="#000" stroke-width="1"/>
<text x="38.7" y="128.5" font-size="13" text-anchor="end">10</text>
<line x1="41" x2="45.5" y1="66.3" y2="66.3" stroke="#000" stroke-width="1"/>
<text x="38.7" y="70.2" font-size="13" text-anchor="end">15</text>
<line x1="41" x2="45.5" y1="8" y2="8" stroke="#000" stroke-width="1"/>
<text x="38.7" y="11.9" font-size="13" text-anchor="end">20</text>
<line x1="43" x2="45.5" y1="212.05" y2="212.05" stroke="#000" stroke-width="1"/>
<line x1="43" x2="45.5" y1="153.75" y2="153.75" stroke="#000" stroke-width="1"/>
<line x1="43" x2="45.5" y1="95.45" y2="95.45" stroke="#000" stroke-width="1"/>
<line x1="43" x2="45.5" y1="37.15" y2="37.15" stroke="#000" stroke-width="1"/>
<line y1="229.3" y2="232.8" x1="45.6" x2="45.6" stroke="#000" stroke-width="1"/>
<text x="45.6" y="247.2" font-size="13" text-anchor="middle">0</text>
<line y1="229.3" y2="232.8" x1="87.25" x2="87.25" stroke="#000" stroke-width="1"/>
<text x="87.25" y="247.2" font-size="13" text-anchor="middle">1000</text>
<line y1="229.3" y2="232.8" x1="128.9" x2="128.9" stroke="#000" stroke-width="1"/>
<text x="128.9" y="247.2" font-size="13" text-anchor="middle">2000</text>
<line y1="229.3" y2="232.8" x1="170.55" x2="170.55" stroke="#000" stroke-width="1"/>
<text x="170.55" y="247.2" font-size="13" text-anchor="middle">3000</text>
<line y1="229.3" y2="232.8" x1="212.2" x2="212.2" stroke="#000" stroke-width="1"/>
<text x="212.2" y="247.2" font-size="13" text-anchor="middle">4000</text>
<line y1="229.3" y2="232.8" x1="253.85" x2="253.85" stroke="#000" stroke-width="1"/>
<text x="253.85" y="247.2" font-size="13" text-anchor="middle">5000</text>
<line y1="229.3" y2="232.8" x1="295.5" x2="295.5" stroke="#000" stroke-width="1"/>
<text x="295.5" y="247.2" font-size="13" text-anchor="middle">6000</text>
<line y1="229.3" y2="231.3" x1="66.42" x2="66.42" stroke="#000" stroke-width="1"/>
<line y1="229.3" y2="231.3" x1="108.08" x2="108.08" stroke="#000" stroke-width="1"/>
<line y1="229.3" y2="231.3" x1="149.72" x2="149.72" stroke="#000" stroke-width="1"/>
<line y1="229.3" y2="231.3" x1="191.38" x2="191.38" stroke="#000" stroke-width="1"/>
<line y1="229.3" y2="231.3" x1="233.03" x2="233.03" stroke="#000" stroke-width="1"/>
<line y1="229.3" y2="231.3" x1="274.68" x2="274.68" stroke="#000" stroke-width="1"/>
<text class="b" x="147.8" y="271.1" font-size="14.4" textLength="44.6" lengthAdjust="spacingAndGlyphs">H (Oe)</text>
<text class="b" transform="translate(13.2 190) rotate(-90)" font-size="15" textLength="123" lengthAdjust="spacingAndGlyphs">Frequency (GHz)</text>
<g clip-path="url(#cr)" fill="none">
<g stroke="#000000" stroke-width="0.75">
<circle cx="400.8" cy="11.5" r="2.1"/>
<circle cx="405" cy="10.5" r="2.1"/>
<circle cx="400.5" cy="16" r="2.1"/>
<circle cx="402" cy="18" r="2.1"/>
<circle cx="406.5" cy="19.5" r="2.1"/>
<circle cx="408" cy="44" r="2.1"/>
<circle cx="409.5" cy="56.5" r="2.1"/>
<circle cx="412" cy="55.5" r="2.1"/>
<circle cx="411" cy="63" r="2.1"/>
<circle cx="414" cy="60" r="2.1"/>
<circle cx="416.5" cy="62.5" r="2.1"/>
<circle cx="413" cy="58" r="2.1"/>
<circle cx="681.8" cy="56.5" r="2.1"/>
<circle cx="416.12" cy="65.29" r="2.1"/>
<circle cx="417.76" cy="68.38" r="2.1"/>
<circle cx="419.57" cy="69.24" r="2.1"/>
<circle cx="421.66" cy="66.63" r="2.1"/>
<circle cx="423.36" cy="72.92" r="2.1"/>
<circle cx="424.81" cy="69.73" r="2.1"/>
<circle cx="427.08" cy="70.29" r="2.1"/>
<circle cx="428.87" cy="69.45" r="2.1"/>
<circle cx="430.2" cy="58.61" r="2.1"/>
<circle cx="431.97" cy="58.38" r="2.1"/>
<circle cx="434.04" cy="58.98" r="2.1"/>
<circle cx="436" cy="52.22" r="2.1"/>
<circle cx="437.68" cy="49.92" r="2.1"/>
<circle cx="439.18" cy="43.8" r="2.1"/>
<circle cx="441.33" cy="35.52" r="2.1"/>
<circle cx="443" cy="38.2" r="2.1"/>
<circle cx="444.71" cy="39.11" r="2.1"/>
<circle cx="446.52" cy="43.83" r="2.1"/>
<circle cx="448.63" cy="36.77" r="2.1"/>
<circle cx="450.05" cy="43.32" r="2.1"/>
<circle cx="452.16" cy="48.19" r="2.1"/>
<circle cx="453.8" cy="42.14" r="2.1"/>
<circle cx="455.82" cy="47.87" r="2.1"/>
<circle cx="457.55" cy="50.48" r="2.1"/>
<circle cx="459.26" cy="52.55" r="2.1"/>
<circle cx="460.89" cy="52.78" r="2.1"/>
<circle cx="462.84" cy="51.83" r="2.1"/>
<circle cx="464.31" cy="51.88" r="2.1"/>
<circle cx="466.53" cy="55.31" r="2.1"/>
<circle cx="468.13" cy="54.08" r="2.1"/>
<circle cx="470.07" cy="54.01" r="2.1"/>
<circle cx="471.79" cy="48.76" r="2.1"/>
<circle cx="473.78" cy="44.04" r="2.1"/>
<circle cx="475.13" cy="45.22" r="2.1"/>
<circle cx="476.98" cy="45.58" r="2.1"/>
<circle cx="478.77" cy="45.75" r="2.1"/>
<circle cx="480.82" cy="49.11" r="2.1"/>
<circle cx="482.51" cy="45.67" r="2.1"/>
<circle cx="484.25" cy="41.58" r="2.1"/>
<circle cx="486.03" cy="44.4" r="2.1"/>
<circle cx="488.29" cy="39.5" r="2.1"/>
<circle cx="489.66" cy="49.2" r="2.1"/>
<circle cx="491.53" cy="46.78" r="2.1"/>
<circle cx="493.26" cy="46.77" r="2.1"/>
<circle cx="495.24" cy="47.52" r="2.1"/>
<circle cx="496.71" cy="56.6" r="2.1"/>
<circle cx="498.88" cy="53.3" r="2.1"/>
<circle cx="500.79" cy="52.76" r="2.1"/>
<circle cx="502.54" cy="49.22" r="2.1"/>
<circle cx="504.49" cy="54.51" r="2.1"/>
<circle cx="506.18" cy="54.31" r="2.1"/>
<circle cx="508.03" cy="50.21" r="2.1"/>
<circle cx="509.6" cy="52.99" r="2.1"/>
<circle cx="511.33" cy="47.53" r="2.1"/>
<circle cx="513.41" cy="44.58" r="2.1"/>
<circle cx="514.86" cy="46" r="2.1"/>
<circle cx="516.85" cy="41.99" r="2.1"/>
<circle cx="518.37" cy="41.57" r="2.1"/>
<circle cx="520.23" cy="42.52" r="2.1"/>
<circle cx="522.18" cy="49.53" r="2.1"/>
<circle cx="523.73" cy="43.46" r="2.1"/>
<circle cx="525.51" cy="40.29" r="2.1"/>
<circle cx="527.68" cy="46.96" r="2.1"/>
<circle cx="529.44" cy="48.14" r="2.1"/>
<circle cx="531.25" cy="49.39" r="2.1"/>
<circle cx="533.27" cy="48.43" r="2.1"/>
<circle cx="534.56" cy="49.21" r="2.1"/>
<circle cx="536.81" cy="47.31" r="2.1"/>
<circle cx="538.65" cy="54.71" r="2.1"/>
<circle cx="540.34" cy="54.29" r="2.1"/>
<circle cx="541.77" cy="47.52" r="2.1"/>
<circle cx="543.78" cy="47.29" r="2.1"/>
<circle cx="545.59" cy="52.52" r="2.1"/>
<circle cx="547.67" cy="45.61" r="2.1"/>
<circle cx="549.26" cy="46.25" r="2.1"/>
<circle cx="551.19" cy="44.18" r="2.1"/>
<circle cx="552.92" cy="47.64" r="2.1"/>
<circle cx="554.72" cy="46.75" r="2.1"/>
<circle cx="556.48" cy="47.17" r="2.1"/>
<circle cx="558.08" cy="46.65" r="2.1"/>
<circle cx="559.9" cy="46.85" r="2.1"/>
<circle cx="561.86" cy="42.88" r="2.1"/>
<circle cx="563.55" cy="44.37" r="2.1"/>
<circle cx="565.46" cy="44.47" r="2.1"/>
<circle cx="567.46" cy="45.6" r="2.1"/>
<circle cx="568.82" cy="48.2" r="2.1"/>
<circle cx="570.89" cy="44.31" r="2.1"/>
<circle cx="572.56" cy="47.5" r="2.1"/>
<circle cx="574.69" cy="47.66" r="2.1"/>
<circle cx="576.16" cy="49.57" r="2.1"/>
<circle cx="577.94" cy="49.43" r="2.1"/>
<circle cx="579.74" cy="50.88" r="2.1"/>
<circle cx="581.61" cy="46.63" r="2.1"/>
<circle cx="583.35" cy="52.41" r="2.1"/>
<circle cx="585.18" cy="48.15" r="2.1"/>
<circle cx="587.1" cy="46.75" r="2.1"/>
<circle cx="588.7" cy="48.21" r="2.1"/>
<circle cx="590.66" cy="53.93" r="2.1"/>
<circle cx="592.49" cy="48.02" r="2.1"/>
<circle cx="594.17" cy="47" r="2.1"/>
<circle cx="595.92" cy="42.6" r="2.1"/>
<circle cx="597.58" cy="42.71" r="2.1"/>
<circle cx="599.55" cy="47.39" r="2.1"/>
<circle cx="601.55" cy="48.99" r="2.1"/>
<circle cx="602.91" cy="44.55" r="2.1"/>
<circle cx="604.87" cy="46.07" r="2.1"/>
<circle cx="606.74" cy="40.24" r="2.1"/>
<circle cx="608.46" cy="47.68" r="2.1"/>
<circle cx="610.14" cy="45.93" r="2.1"/>
<circle cx="612.27" cy="49.69" r="2.1"/>
<circle cx="613.96" cy="49.19" r="2.1"/>
<circle cx="615.82" cy="54.94" r="2.1"/>
<circle cx="617.78" cy="48.28" r="2.1"/>
<circle cx="619.68" cy="44.13" r="2.1"/>
<circle cx="621.23" cy="46.11" r="2.1"/>
<circle cx="622.73" cy="48.48" r="2.1"/>
<circle cx="624.55" cy="45.71" r="2.1"/>
<circle cx="626.69" cy="42.52" r="2.1"/>
<circle cx="628.53" cy="45.53" r="2.1"/>
<circle cx="630.2" cy="45.17" r="2.1"/>
<circle cx="632.04" cy="41.8" r="2.1"/>
<circle cx="633.97" cy="51.61" r="2.1"/>
<circle cx="635.88" cy="47.07" r="2.1"/>
<circle cx="637.59" cy="45.46" r="2.1"/>
<circle cx="639.19" cy="42.95" r="2.1"/>
<circle cx="641.21" cy="44" r="2.1"/>
<circle cx="642.67" cy="47.96" r="2.1"/>
<circle cx="644.76" cy="52.73" r="2.1"/>
<circle cx="646.25" cy="51.71" r="2.1"/>
<circle cx="648.44" cy="46.39" r="2.1"/>
<circle cx="649.95" cy="47.39" r="2.1"/>
<circle cx="652.01" cy="42.33" r="2.1"/>
<circle cx="653.58" cy="44.89" r="2.1"/>
<circle cx="655.7" cy="50.01" r="2.1"/>
<circle cx="657.21" cy="49.83" r="2.1"/>
<circle cx="658.83" cy="50.33" r="2.1"/>
<circle cx="660.69" cy="49.34" r="2.1"/>
<circle cx="662.84" cy="49.15" r="2.1"/>
<circle cx="664.5" cy="44.21" r="2.1"/>
<circle cx="666.14" cy="48.41" r="2.1"/>
<circle cx="667.7" cy="49.64" r="2.1"/>
<circle cx="669.52" cy="48.75" r="2.1"/>
<circle cx="671.59" cy="44.28" r="2.1"/>
<circle cx="673.18" cy="51.53" r="2.1"/>
<circle cx="675.08" cy="46.73" r="2.1"/>
<circle cx="676.77" cy="44.2" r="2.1"/>
<circle cx="678.66" cy="49.36" r="2.1"/>
<circle cx="680.79" cy="38.6" r="2.1"/>
<circle cx="682.64" cy="50.71" r="2.1"/>
<circle cx="684.39" cy="44.33" r="2.1"/>
<circle cx="686.24" cy="49.71" r="2.1"/>
<circle cx="688.01" cy="46.2" r="2.1"/>
<circle cx="689.86" cy="47.63" r="2.1"/>
<circle cx="691.49" cy="44.18" r="2.1"/>
<circle cx="693.09" cy="49.64" r="2.1"/>
<circle cx="695" cy="46.85" r="2.1"/>
</g>
<path transform="scale(0.78 1)" d="M532.05 62 L533.33 63.47 L534.62 64.92 L535.9 66.29 L537.18 67.54 L538.46 68.63 L539.74 69.51 L541.03 70.16 L542.31 70.56 L543.59 70.7 L544.87 70.53 L546.15 70 L547.44 69.15 L548.72 67.98 L550 66.53 L551.28 64.82 L552.56 62.89 L553.85 60.79 L555.13 58.57 L556.41 56.28 L557.69 53.96 L558.97 51.68 L560.26 49.48 L561.54 47.41 L562.82 45.52 L564.1 43.86 L565.38 42.46 L566.67 41.35 L567.95 40.56 L569.23 40.11 L570.51 40 L571.79 40.15 L573.08 40.5 L574.36 41.05 L575.64 41.77 L576.92 42.66 L578.21 43.67 L579.49 44.8 L580.77 45.99 L582.05 47.23 L583.33 48.46 L584.62 49.67 L585.9 50.81 L587.18 51.85 L588.46 52.76 L589.74 53.52 L591.03 54.1 L592.31 54.5 L593.59 54.68 L594.87 54.67 L596.15 54.49 L597.44 54.16 L598.72 53.67 L600 53.06 L601.28 52.32 L602.56 51.49 L603.85 50.58 L605.13 49.63 L606.41 48.65 L607.69 47.68 L608.97 46.75 L610.26 45.87 L611.54 45.07 L612.82 44.38 L614.1 43.82 L615.38 43.39 L616.67 43.12 L617.95 43 L619.23 43.04 L620.51 43.19 L621.79 43.45 L623.08 43.81 L624.36 44.27 L625.64 44.82 L626.92 45.43 L628.21 46.09 L629.49 46.78 L630.77 47.49 L632.05 48.2 L633.33 48.88 L634.62 49.53 L635.9 50.11 L637.18 50.62 L638.46 51.04 L639.74 51.37 L641.03 51.59 L642.31 51.69 L643.59 51.68 L644.87 51.56 L646.15 51.34 L647.44 51.01 L648.72 50.6 L650 50.11 L651.28 49.56 L652.56 48.96 L653.85 48.33 L655.13 47.69 L656.41 47.06 L657.69 46.46 L658.97 45.89 L660.26 45.39 L661.54 44.96 L662.82 44.62 L664.1 44.38 L665.38 44.23 L666.67 44.2 L667.95 44.25 L669.23 44.38 L670.51 44.58 L671.79 44.85 L673.08 45.17 L674.36 45.55 L675.64 45.97 L676.92 46.42 L678.21 46.89 L679.49 47.37 L680.77 47.85 L682.05 48.31 L683.33 48.75 L684.62 49.15 L685.9 49.5 L687.18 49.79 L688.46 50.03 L689.74 50.19 L691.03 50.28 L692.31 50.3 L693.59 50.24 L694.87 50.12 L696.15 49.94 L697.44 49.7 L698.72 49.4 L700 49.06 L701.28 48.68 L702.56 48.28 L703.85 47.86 L705.13 47.43 L706.41 47.01 L707.69 46.6 L708.97 46.21 L710.26 45.86 L711.54 45.56 L712.82 45.31 L714.1 45.11 L715.38 44.98 L716.67 44.91 L717.95 44.91 L719.23 44.96 L720.51 45.06 L721.79 45.2 L723.08 45.39 L724.36 45.61 L725.64 45.87 L726.92 46.16 L728.21 46.46 L729.49 46.77 L730.77 47.09 L732.05 47.4 L733.33 47.7 L734.62 47.98 L735.9 48.23 L737.18 48.45 L738.46 48.63 L739.74 48.77 L741.03 48.86 L742.31 48.9 L743.59 48.89 L744.87 48.86 L746.15 48.79 L747.44 48.7 L748.72 48.58 L750 48.43 L751.28 48.27 L752.56 48.09 L753.85 47.9 L755.13 47.7 L756.41 47.49 L757.69 47.28 L758.97 47.08 L760.26 46.89 L761.54 46.71 L762.82 46.55 L764.1 46.41 L765.38 46.29 L766.67 46.2 L767.95 46.14 L769.23 46.11 L770.51 46.1 L771.79 46.13 L773.08 46.19 L774.36 46.28 L775.64 46.4 L776.92 46.54 L778.21 46.69 L779.49 46.87 L780.77 47.05 L782.05 47.24 L783.33 47.42 L784.62 47.6 L785.9 47.77 L787.18 47.92 L788.46 48.05 L789.74 48.16 L791.03 48.24 L792.31 48.28 L793.59 48.3 L794.87 48.29 L796.15 48.27 L797.44 48.24 L798.72 48.19 L800 48.14 L801.28 48.07 L802.56 47.99 L803.85 47.91 L805.13 47.82 L806.41 47.73 L807.69 47.63 L808.97 47.53 L810.26 47.44 L811.54 47.34 L812.82 47.26 L814.1 47.17 L815.38 47.1 L816.67 47.04 L817.95 46.99 L819.23 46.95 L820.51 46.92 L821.79 46.9 L823.08 46.9 L824.36 46.91 L825.64 46.93 L826.92 46.97 L828.21 47.01 L829.49 47.06 L830.77 47.12 L832.05 47.19 L833.33 47.26 L834.62 47.34 L835.9 47.42 L837.18 47.49 L838.46 47.57 L839.74 47.64 L841.03 47.7 L842.31 47.76 L843.59 47.81 L844.87 47.85 L846.15 47.88 L847.44 47.89 L848.72 47.9 L850 47.9 L851.28 47.9 L852.56 47.9 L853.85 47.89 L855.13 47.89 L856.41 47.88 L857.69 47.88 L858.97 47.87 L860.26 47.86 L861.54 47.86 L862.82 47.85 L864.1 47.84 L865.38 47.83 L866.67 47.82 L867.95 47.81 L869.23 47.8 L870.51 47.79 L871.79 47.78 L873.08 47.77 L874.36 47.76 L875.64 47.76 L876.92 47.75 L878.21 47.74 L879.49 47.73 L880.77 47.73 L882.05 47.72 L883.33 47.71 L884.62 47.71 L885.9 47.71 L887.18 47.7 L888.46 47.7 L889.74 47.7" stroke="#000000" stroke-width="3.7" stroke-linecap="butt" stroke-linejoin="round"/>
<g stroke="#ff0000" stroke-width="0.75">
<circle cx="399.5" cy="26" r="2.1"/>
<circle cx="401" cy="28.5" r="2.1"/>
<circle cx="405" cy="28" r="2.1"/>
<circle cx="400.5" cy="34" r="2.1"/>
<circle cx="406.5" cy="38.5" r="2.1"/>
<circle cx="407.8" cy="67.5" r="2.1"/>
<circle cx="409.5" cy="84.5" r="2.1"/>
<circle cx="412" cy="86" r="2.1"/>
<circle cx="414" cy="84" r="2.1"/>
<circle cx="411" cy="88" r="2.1"/>
<circle cx="415.75" cy="89.74" r="2.1"/>
<circle cx="417.4" cy="94.74" r="2.1"/>
<circle cx="419.22" cy="100.06" r="2.1"/>
<circle cx="421.18" cy="104.97" r="2.1"/>
<circle cx="422.86" cy="107.27" r="2.1"/>
<circle cx="424.48" cy="108.01" r="2.1"/>
<circle cx="426.12" cy="105.9" r="2.1"/>
<circle cx="427.98" cy="110.99" r="2.1"/>
<circle cx="430" cy="109.93" r="2.1"/>
<circle cx="431.64" cy="106.74" r="2.1"/>
<circle cx="433.6" cy="97.74" r="2.1"/>
<circle cx="435.06" cy="101.1" r="2.1"/>
<circle cx="436.96" cy="92.36" r="2.1"/>
<circle cx="439.19" cy="84.32" r="2.1"/>
<circle cx="440.64" cy="80.37" r="2.1"/>
<circle cx="442.7" cy="79.31" r="2.1"/>
<circle cx="444.51" cy="77.72" r="2.1"/>
<circle cx="446.32" cy="69.6" r="2.1"/>
<circle cx="448.17" cy="71.45" r="2.1"/>
<circle cx="449.75" cy="72.3" r="2.1"/>
<circle cx="451.69" cy="64.74" r="2.1"/>
<circle cx="453.37" cy="68.97" r="2.1"/>
<circle cx="455.21" cy="68.79" r="2.1"/>
<circle cx="456.72" cy="71.26" r="2.1"/>
<circle cx="458.98" cy="78.88" r="2.1"/>
<circle cx="460.29" cy="76.59" r="2.1"/>
<circle cx="462.33" cy="79.61" r="2.1"/>
<circle cx="464.08" cy="85.76" r="2.1"/>
<circle cx="465.77" cy="86.89" r="2.1"/>
<circle cx="467.68" cy="91.19" r="2.1"/>
<circle cx="469.78" cy="85.15" r="2.1"/>
<circle cx="471.17" cy="90.47" r="2.1"/>
<circle cx="473.08" cy="95.21" r="2.1"/>
<circle cx="475.08" cy="87.89" r="2.1"/>
<circle cx="476.73" cy="87.19" r="2.1"/>
<circle cx="478.4" cy="87.79" r="2.1"/>
<circle cx="480.54" cy="85.83" r="2.1"/>
<circle cx="481.83" cy="80.67" r="2.1"/>
<circle cx="483.67" cy="79.7" r="2.1"/>
<circle cx="485.62" cy="78.58" r="2.1"/>
<circle cx="487.61" cy="71.72" r="2.1"/>
<circle cx="489.4" cy="75.78" r="2.1"/>
<circle cx="490.99" cy="72" r="2.1"/>
<circle cx="493.04" cy="72.55" r="2.1"/>
<circle cx="494.58" cy="73.3" r="2.1"/>
<circle cx="496.23" cy="76.74" r="2.1"/>
<circle cx="498.4" cy="79.32" r="2.1"/>
<circle cx="500.23" cy="75.58" r="2.1"/>
<circle cx="502.19" cy="82" r="2.1"/>
<circle cx="503.43" cy="77.25" r="2.1"/>
<circle cx="505.57" cy="77.55" r="2.1"/>
<circle cx="507.45" cy="83.26" r="2.1"/>
<circle cx="508.96" cy="83.28" r="2.1"/>
<circle cx="511.01" cy="82.52" r="2.1"/>
<circle cx="512.84" cy="88.73" r="2.1"/>
<circle cx="514.63" cy="82.74" r="2.1"/>
<circle cx="516.13" cy="81.15" r="2.1"/>
<circle cx="517.86" cy="83.65" r="2.1"/>
<circle cx="520.04" cy="81.93" r="2.1"/>
<circle cx="521.8" cy="82.66" r="2.1"/>
<circle cx="523.77" cy="77.59" r="2.1"/>
<circle cx="525.41" cy="76.91" r="2.1"/>
<circle cx="526.81" cy="78.83" r="2.1"/>
<circle cx="528.91" cy="76.11" r="2.1"/>
<circle cx="530.47" cy="79.4" r="2.1"/>
<circle cx="532.47" cy="79.16" r="2.1"/>
<circle cx="534.05" cy="70.68" r="2.1"/>
<circle cx="536.25" cy="73.6" r="2.1"/>
<circle cx="537.64" cy="76.02" r="2.1"/>
<circle cx="539.57" cy="75.59" r="2.1"/>
<circle cx="541.43" cy="80.33" r="2.1"/>
<circle cx="543.53" cy="83" r="2.1"/>
<circle cx="545.22" cy="77.89" r="2.1"/>
<circle cx="546.83" cy="75.4" r="2.1"/>
<circle cx="548.76" cy="80.59" r="2.1"/>
<circle cx="550.49" cy="83.2" r="2.1"/>
<circle cx="552.02" cy="78.92" r="2.1"/>
<circle cx="553.96" cy="83.84" r="2.1"/>
<circle cx="556.09" cy="81.79" r="2.1"/>
<circle cx="557.97" cy="78.7" r="2.1"/>
<circle cx="559.47" cy="77.44" r="2.1"/>
<circle cx="561.16" cy="77.31" r="2.1"/>
<circle cx="562.91" cy="83.21" r="2.1"/>
<circle cx="564.63" cy="83.62" r="2.1"/>
<circle cx="566.4" cy="79.51" r="2.1"/>
<circle cx="568.79" cy="77.78" r="2.1"/>
<circle cx="570.41" cy="80.84" r="2.1"/>
<circle cx="572.24" cy="71.59" r="2.1"/>
<circle cx="574.01" cy="75.99" r="2.1"/>
<circle cx="575.64" cy="84.56" r="2.1"/>
<circle cx="577.75" cy="77.2" r="2.1"/>
<circle cx="579.52" cy="73.77" r="2.1"/>
<circle cx="580.81" cy="81.01" r="2.1"/>
<circle cx="582.77" cy="79.05" r="2.1"/>
<circle cx="584.97" cy="75.64" r="2.1"/>
<circle cx="586.28" cy="76.1" r="2.1"/>
<circle cx="588.46" cy="78.47" r="2.1"/>
<circle cx="590.12" cy="80.25" r="2.1"/>
<circle cx="592.1" cy="82.62" r="2.1"/>
<circle cx="593.45" cy="78.36" r="2.1"/>
<circle cx="595.63" cy="81.83" r="2.1"/>
<circle cx="597.57" cy="74.9" r="2.1"/>
<circle cx="598.83" cy="80.18" r="2.1"/>
<circle cx="600.95" cy="75.42" r="2.1"/>
<circle cx="602.72" cy="82.31" r="2.1"/>
<circle cx="604.37" cy="79.97" r="2.1"/>
<circle cx="606.33" cy="74.02" r="2.1"/>
<circle cx="607.85" cy="76.68" r="2.1"/>
<circle cx="609.67" cy="81.13" r="2.1"/>
<circle cx="611.7" cy="81.32" r="2.1"/>
<circle cx="613.45" cy="77.65" r="2.1"/>
<circle cx="615.1" cy="79.48" r="2.1"/>
<circle cx="617.2" cy="78.24" r="2.1"/>
<circle cx="618.76" cy="79.32" r="2.1"/>
<circle cx="620.92" cy="81.61" r="2.1"/>
<circle cx="622.58" cy="76.33" r="2.1"/>
<circle cx="624.2" cy="78.69" r="2.1"/>
<circle cx="626.31" cy="79.98" r="2.1"/>
<circle cx="628.17" cy="77.17" r="2.1"/>
<circle cx="629.65" cy="80.42" r="2.1"/>
<circle cx="631.79" cy="80.42" r="2.1"/>
<circle cx="633.32" cy="75.48" r="2.1"/>
<circle cx="634.93" cy="82.07" r="2.1"/>
<circle cx="636.95" cy="75.44" r="2.1"/>
<circle cx="638.88" cy="80.84" r="2.1"/>
<circle cx="640.67" cy="80.82" r="2.1"/>
<circle cx="642.45" cy="78.58" r="2.1"/>
<circle cx="644.23" cy="83.58" r="2.1"/>
<circle cx="646.07" cy="78.89" r="2.1"/>
<circle cx="647.8" cy="80.38" r="2.1"/>
<circle cx="649.43" cy="79.2" r="2.1"/>
<circle cx="651.3" cy="79.1" r="2.1"/>
<circle cx="653.12" cy="79.99" r="2.1"/>
<circle cx="654.74" cy="74.65" r="2.1"/>
<circle cx="656.93" cy="78.18" r="2.1"/>
<circle cx="658.39" cy="78.72" r="2.1"/>
<circle cx="660.21" cy="77.29" r="2.1"/>
<circle cx="662.22" cy="78.7" r="2.1"/>
<circle cx="663.81" cy="77.85" r="2.1"/>
<circle cx="665.44" cy="79.06" r="2.1"/>
<circle cx="667.33" cy="83.13" r="2.1"/>
<circle cx="669.1" cy="81.2" r="2.1"/>
<circle cx="671.11" cy="72.55" r="2.1"/>
<circle cx="673.12" cy="77.34" r="2.1"/>
<circle cx="674.77" cy="82.52" r="2.1"/>
<circle cx="676.57" cy="81.68" r="2.1"/>
<circle cx="678.2" cy="77.09" r="2.1"/>
<circle cx="680.2" cy="75.59" r="2.1"/>
<circle cx="681.64" cy="72.9" r="2.1"/>
<circle cx="684" cy="78.25" r="2.1"/>
<circle cx="685.24" cy="80.52" r="2.1"/>
<circle cx="687.19" cy="83.42" r="2.1"/>
<circle cx="689.24" cy="77.9" r="2.1"/>
<circle cx="690.62" cy="80.83" r="2.1"/>
<circle cx="692.68" cy="82.72" r="2.1"/>
<circle cx="694.44" cy="78.76" r="2.1"/>
</g>
<path transform="scale(0.78 1)" d="M531.41 89 L532.69 91.41 L533.97 93.8 L535.26 96.13 L536.54 98.35 L537.82 100.41 L539.1 102.28 L540.38 103.93 L541.67 105.31 L542.95 106.41 L544.23 107.2 L545.51 107.66 L546.79 107.8 L548.08 107.6 L549.36 107.07 L550.64 106.21 L551.92 105.05 L553.21 103.6 L554.49 101.89 L555.77 99.95 L557.05 97.8 L558.33 95.5 L559.62 93.07 L560.9 90.56 L562.18 88.02 L563.46 85.48 L564.74 82.99 L566.03 80.59 L567.31 78.33 L568.59 76.25 L569.87 74.37 L571.15 72.74 L572.44 71.37 L573.72 70.3 L575 69.54 L576.28 69.11 L577.56 69 L578.85 69.15 L580.13 69.51 L581.41 70.06 L582.69 70.8 L583.97 71.71 L585.26 72.78 L586.54 73.97 L587.82 75.28 L589.1 76.66 L590.38 78.08 L591.67 79.53 L592.95 80.96 L594.23 82.35 L595.51 83.67 L596.79 84.89 L598.08 85.99 L599.36 86.93 L600.64 87.71 L601.92 88.3 L603.21 88.69 L604.49 88.88 L605.77 88.87 L607.05 88.68 L608.33 88.33 L609.62 87.83 L610.9 87.17 L612.18 86.38 L613.46 85.48 L614.74 84.48 L616.03 83.41 L617.31 82.28 L618.59 81.12 L619.87 79.97 L621.15 78.83 L622.44 77.73 L623.72 76.71 L625 75.78 L626.28 74.95 L627.56 74.26 L628.85 73.7 L630.13 73.3 L631.41 73.07 L632.69 73 L633.97 73.08 L635.26 73.3 L636.54 73.65 L637.82 74.11 L639.1 74.69 L640.38 75.36 L641.67 76.11 L642.95 76.91 L644.23 77.75 L645.51 78.6 L646.79 79.44 L648.08 80.26 L649.36 81.02 L650.64 81.72 L651.92 82.32 L653.21 82.82 L654.49 83.21 L655.77 83.47 L657.05 83.59 L658.33 83.58 L659.62 83.49 L660.9 83.32 L662.18 83.07 L663.46 82.74 L664.74 82.35 L666.03 81.91 L667.31 81.42 L668.59 80.89 L669.87 80.34 L671.15 79.77 L672.44 79.21 L673.72 78.66 L675 78.13 L676.28 77.64 L677.56 77.2 L678.85 76.82 L680.13 76.5 L681.41 76.26 L682.69 76.09 L683.97 76.01 L685.26 76.01 L686.54 76.07 L687.82 76.19 L689.1 76.37 L690.38 76.61 L691.67 76.9 L692.95 77.22 L694.23 77.59 L695.51 77.98 L696.79 78.39 L698.08 78.81 L699.36 79.23 L700.64 79.64 L701.92 80.04 L703.21 80.41 L704.49 80.74 L705.77 81.04 L707.05 81.28 L708.33 81.47 L709.62 81.61 L710.9 81.68 L712.18 81.7 L713.46 81.65 L714.74 81.54 L716.03 81.38 L717.31 81.16 L718.59 80.9 L719.87 80.6 L721.15 80.26 L722.44 79.9 L723.72 79.53 L725 79.15 L726.28 78.77 L727.56 78.41 L728.85 78.07 L730.13 77.76 L731.41 77.49 L732.69 77.26 L733.97 77.09 L735.26 76.97 L736.54 76.91 L737.82 76.91 L739.1 76.95 L740.38 77.02 L741.67 77.14 L742.95 77.29 L744.23 77.48 L745.51 77.69 L746.79 77.92 L748.08 78.17 L749.36 78.44 L750.64 78.71 L751.92 78.98 L753.21 79.25 L754.49 79.5 L755.77 79.74 L757.05 79.96 L758.33 80.16 L759.62 80.32 L760.9 80.44 L762.18 80.54 L763.46 80.59 L764.74 80.6 L766.03 80.58 L767.31 80.54 L768.59 80.46 L769.87 80.37 L771.15 80.25 L772.44 80.12 L773.72 79.96 L775 79.79 L776.28 79.61 L777.56 79.42 L778.85 79.23 L780.13 79.04 L781.41 78.85 L782.69 78.66 L783.97 78.49 L785.26 78.33 L786.54 78.19 L787.82 78.06 L789.1 77.96 L790.38 77.88 L791.67 77.83 L792.95 77.8 L794.23 77.8 L795.51 77.83 L796.79 77.89 L798.08 77.97 L799.36 78.07 L800.64 78.19 L801.92 78.33 L803.21 78.49 L804.49 78.66 L805.77 78.83 L807.05 79 L808.33 79.18 L809.62 79.34 L810.9 79.49 L812.18 79.63 L813.46 79.75 L814.74 79.85 L816.03 79.93 L817.31 79.98 L818.59 80 L819.87 80 L821.15 79.98 L822.44 79.94 L823.72 79.89 L825 79.83 L826.28 79.75 L827.56 79.66 L828.85 79.56 L830.13 79.45 L831.41 79.34 L832.69 79.23 L833.97 79.11 L835.26 78.99 L836.54 78.88 L837.82 78.77 L839.1 78.67 L840.38 78.58 L841.67 78.5 L842.95 78.43 L844.23 78.37 L845.51 78.33 L846.79 78.31 L848.08 78.3 L849.36 78.31 L850.64 78.32 L851.92 78.34 L853.21 78.38 L854.49 78.42 L855.77 78.47 L857.05 78.52 L858.33 78.58 L859.62 78.64 L860.9 78.69 L862.18 78.75 L863.46 78.81 L864.74 78.86 L866.03 78.9 L867.31 78.94 L868.59 78.97 L869.87 78.99 L871.15 79 L872.44 79 L873.72 78.99 L875 78.97 L876.28 78.95 L877.56 78.91 L878.85 78.87 L880.13 78.83 L881.41 78.79 L882.69 78.75 L883.97 78.71 L885.26 78.67 L886.54 78.64 L887.82 78.62 L889.1 78.6 L890.38 78.6" stroke="#ff0000" stroke-width="3.7" stroke-linecap="butt" stroke-linejoin="round"/>
<g stroke="#00f000" stroke-width="0.72">
<circle cx="399.5" cy="67.5" r="1.75"/>
<circle cx="402" cy="71" r="1.75"/>
<circle cx="404.5" cy="69.5" r="1.75"/>
<circle cx="401" cy="68.5" r="1.75"/>
<circle cx="406.2" cy="81.4" r="1.75"/>
<circle cx="407.7" cy="103" r="1.75"/>
<circle cx="409.5" cy="114.5" r="1.75"/>
<circle cx="412" cy="115" r="1.75"/>
<circle cx="414.5" cy="117" r="1.75"/>
<circle cx="411" cy="117.5" r="1.75"/>
<circle cx="416.33" cy="118.81" r="1.75"/>
<circle cx="417.93" cy="122.2" r="1.75"/>
<circle cx="419.82" cy="119.8" r="1.75"/>
<circle cx="421.61" cy="122.29" r="1.75"/>
<circle cx="423.24" cy="129.11" r="1.75"/>
<circle cx="425.39" cy="124.98" r="1.75"/>
<circle cx="427" cy="127.32" r="1.75"/>
<circle cx="428.82" cy="125.74" r="1.75"/>
<circle cx="430.7" cy="130.4" r="1.75"/>
<circle cx="432.16" cy="129.8" r="1.75"/>
<circle cx="434.35" cy="123.42" r="1.75"/>
<circle cx="435.94" cy="125.91" r="1.75"/>
<circle cx="437.85" cy="120.97" r="1.75"/>
<circle cx="439.56" cy="115.67" r="1.75"/>
<circle cx="441.63" cy="110.62" r="1.75"/>
<circle cx="443.28" cy="108.74" r="1.75"/>
<circle cx="445.08" cy="100.78" r="1.75"/>
<circle cx="446.91" cy="104.83" r="1.75"/>
<circle cx="448.85" cy="98.46" r="1.75"/>
<circle cx="450.42" cy="102.46" r="1.75"/>
<circle cx="452.46" cy="102.02" r="1.75"/>
<circle cx="453.8" cy="98.57" r="1.75"/>
<circle cx="455.73" cy="103.78" r="1.75"/>
<circle cx="457.71" cy="102.54" r="1.75"/>
<circle cx="459.5" cy="103.34" r="1.75"/>
<circle cx="461.15" cy="102.86" r="1.75"/>
<circle cx="462.75" cy="107.08" r="1.75"/>
<circle cx="464.59" cy="109.52" r="1.75"/>
<circle cx="466.49" cy="110.37" r="1.75"/>
<circle cx="468.35" cy="112.16" r="1.75"/>
<circle cx="470.35" cy="112.9" r="1.75"/>
<circle cx="471.98" cy="115.64" r="1.75"/>
<circle cx="474.01" cy="116.5" r="1.75"/>
<circle cx="475.44" cy="111.05" r="1.75"/>
<circle cx="477.33" cy="116.42" r="1.75"/>
<circle cx="479.48" cy="115.56" r="1.75"/>
<circle cx="480.81" cy="119.86" r="1.75"/>
<circle cx="483.07" cy="111.62" r="1.75"/>
<circle cx="484.37" cy="111.77" r="1.75"/>
<circle cx="486.19" cy="111.6" r="1.75"/>
<circle cx="488.37" cy="108.11" r="1.75"/>
<circle cx="490.1" cy="105.72" r="1.75"/>
<circle cx="491.74" cy="106.66" r="1.75"/>
<circle cx="493.34" cy="103.5" r="1.75"/>
<circle cx="495.57" cy="103.14" r="1.75"/>
<circle cx="497.38" cy="98.98" r="1.75"/>
<circle cx="499.24" cy="100.92" r="1.75"/>
<circle cx="501.1" cy="99.21" r="1.75"/>
<circle cx="502.63" cy="102.64" r="1.75"/>
<circle cx="504.37" cy="101.29" r="1.75"/>
<circle cx="506" cy="101.99" r="1.75"/>
<circle cx="507.76" cy="105.79" r="1.75"/>
<circle cx="509.66" cy="102.8" r="1.75"/>
<circle cx="511.77" cy="101.68" r="1.75"/>
<circle cx="513.49" cy="106.31" r="1.75"/>
<circle cx="515.37" cy="106.79" r="1.75"/>
<circle cx="517.08" cy="107.6" r="1.75"/>
<circle cx="518.98" cy="105.3" r="1.75"/>
<circle cx="520.57" cy="110.51" r="1.75"/>
<circle cx="522.5" cy="108.86" r="1.75"/>
<circle cx="524.11" cy="110.22" r="1.75"/>
<circle cx="526.13" cy="110.97" r="1.75"/>
<circle cx="527.63" cy="106.76" r="1.75"/>
<circle cx="529.32" cy="107.26" r="1.75"/>
<circle cx="531.54" cy="113.45" r="1.75"/>
<circle cx="533.32" cy="116.98" r="1.75"/>
<circle cx="535.29" cy="108.86" r="1.75"/>
<circle cx="536.88" cy="107.18" r="1.75"/>
<circle cx="538.87" cy="105.81" r="1.75"/>
<circle cx="540.65" cy="106.73" r="1.75"/>
<circle cx="542.29" cy="105.06" r="1.75"/>
<circle cx="544.03" cy="105.42" r="1.75"/>
<circle cx="545.81" cy="106" r="1.75"/>
<circle cx="547.35" cy="99.95" r="1.75"/>
<circle cx="549.46" cy="103.82" r="1.75"/>
<circle cx="551.44" cy="101.52" r="1.75"/>
<circle cx="553.06" cy="106.48" r="1.75"/>
<circle cx="554.87" cy="105.31" r="1.75"/>
<circle cx="556.59" cy="102.8" r="1.75"/>
<circle cx="558.59" cy="104.09" r="1.75"/>
<circle cx="560.47" cy="111.87" r="1.75"/>
<circle cx="561.95" cy="108.04" r="1.75"/>
<circle cx="563.75" cy="108.79" r="1.75"/>
<circle cx="565.6" cy="102.72" r="1.75"/>
<circle cx="567.29" cy="105.61" r="1.75"/>
<circle cx="569.21" cy="114.25" r="1.75"/>
<circle cx="570.93" cy="105.73" r="1.75"/>
<circle cx="572.7" cy="105.27" r="1.75"/>
<circle cx="574.73" cy="113.35" r="1.75"/>
<circle cx="576.66" cy="106.62" r="1.75"/>
<circle cx="578.11" cy="101.28" r="1.75"/>
<circle cx="580.03" cy="108.87" r="1.75"/>
<circle cx="582.04" cy="105.49" r="1.75"/>
<circle cx="583.51" cy="107.98" r="1.75"/>
<circle cx="585.16" cy="107.46" r="1.75"/>
<circle cx="587.11" cy="107.86" r="1.75"/>
<circle cx="589.29" cy="106.36" r="1.75"/>
<circle cx="590.72" cy="103.91" r="1.75"/>
<circle cx="592.39" cy="107.91" r="1.75"/>
<circle cx="594.3" cy="105.07" r="1.75"/>
<circle cx="596.5" cy="107.79" r="1.75"/>
<circle cx="598.15" cy="103.56" r="1.75"/>
<circle cx="599.62" cy="102.6" r="1.75"/>
<circle cx="601.76" cy="103.63" r="1.75"/>
<circle cx="603.41" cy="100.18" r="1.75"/>
<circle cx="605.27" cy="109.9" r="1.75"/>
<circle cx="606.99" cy="104.14" r="1.75"/>
<circle cx="608.86" cy="105" r="1.75"/>
<circle cx="610.84" cy="109.43" r="1.75"/>
<circle cx="612.22" cy="110.95" r="1.75"/>
<circle cx="614.12" cy="108.4" r="1.75"/>
<circle cx="615.9" cy="110.86" r="1.75"/>
<circle cx="618.08" cy="109.35" r="1.75"/>
<circle cx="619.75" cy="109.45" r="1.75"/>
<circle cx="621.16" cy="104.29" r="1.75"/>
<circle cx="623.21" cy="112.74" r="1.75"/>
<circle cx="625.15" cy="108.75" r="1.75"/>
<circle cx="626.79" cy="110.43" r="1.75"/>
<circle cx="628.8" cy="105.72" r="1.75"/>
<circle cx="630.31" cy="105.07" r="1.75"/>
<circle cx="632.24" cy="103.59" r="1.75"/>
<circle cx="634.24" cy="103.71" r="1.75"/>
<circle cx="635.92" cy="110.92" r="1.75"/>
<circle cx="637.36" cy="103.64" r="1.75"/>
<circle cx="639.43" cy="108.2" r="1.75"/>
<circle cx="641.4" cy="104.84" r="1.75"/>
<circle cx="643.29" cy="109.19" r="1.75"/>
<circle cx="644.84" cy="108.81" r="1.75"/>
<circle cx="646.89" cy="108.56" r="1.75"/>
<circle cx="648.17" cy="104.09" r="1.75"/>
<circle cx="650.18" cy="106.22" r="1.75"/>
<circle cx="651.77" cy="100.62" r="1.75"/>
<circle cx="653.56" cy="107.49" r="1.75"/>
<circle cx="655.55" cy="104.88" r="1.75"/>
<circle cx="657.55" cy="106.72" r="1.75"/>
<circle cx="659.01" cy="105.64" r="1.75"/>
<circle cx="660.76" cy="102.2" r="1.75"/>
<circle cx="663.03" cy="107.11" r="1.75"/>
<circle cx="664.6" cy="103.53" r="1.75"/>
<circle cx="666.66" cy="106.67" r="1.75"/>
<circle cx="667.95" cy="106.74" r="1.75"/>
<circle cx="669.78" cy="107.19" r="1.75"/>
<circle cx="671.9" cy="110.44" r="1.75"/>
<circle cx="673.73" cy="107.1" r="1.75"/>
<circle cx="675.62" cy="107.65" r="1.75"/>
<circle cx="677.19" cy="108.75" r="1.75"/>
<circle cx="678.81" cy="108.42" r="1.75"/>
<circle cx="680.85" cy="105.27" r="1.75"/>
<circle cx="682.69" cy="102.94" r="1.75"/>
<circle cx="684.36" cy="105.81" r="1.75"/>
<circle cx="686.29" cy="107.29" r="1.75"/>
<circle cx="688.22" cy="108.5" r="1.75"/>
<circle cx="689.89" cy="108.15" r="1.75"/>
<circle cx="691.7" cy="102.79" r="1.75"/>
<circle cx="693.68" cy="106.63" r="1.75"/>
<circle cx="694.94" cy="108.8" r="1.75"/>
</g>
<path transform="scale(0.78 1)" d="M532.31 115.3 L533.59 116.83 L534.87 118.34 L536.15 119.83 L537.44 121.27 L538.72 122.63 L540 123.9 L541.28 125.05 L542.56 126.08 L543.85 126.95 L545.13 127.67 L546.41 128.22 L547.69 128.59 L548.97 128.78 L550.26 128.77 L551.54 128.53 L552.82 128.04 L554.1 127.32 L555.38 126.39 L556.67 125.25 L557.95 123.92 L559.23 122.42 L560.51 120.79 L561.79 119.05 L563.08 117.22 L564.36 115.33 L565.64 113.42 L566.92 111.52 L568.21 109.66 L569.49 107.87 L570.77 106.18 L572.05 104.61 L573.33 103.2 L574.62 101.96 L575.9 100.92 L577.18 100.09 L578.46 99.49 L579.74 99.12 L581.03 99 L582.31 99.08 L583.59 99.31 L584.87 99.69 L586.15 100.21 L587.44 100.86 L588.72 101.63 L590 102.51 L591.28 103.47 L592.56 104.5 L593.85 105.59 L595.13 106.7 L596.41 107.82 L597.69 108.93 L598.97 110.01 L600.26 111.03 L601.54 111.98 L602.82 112.83 L604.1 113.58 L605.38 114.21 L606.67 114.7 L607.95 115.05 L609.23 115.25 L610.51 115.3 L611.79 115.22 L613.08 115.04 L614.36 114.75 L615.64 114.36 L616.92 113.88 L618.21 113.31 L619.49 112.67 L620.77 111.95 L622.05 111.18 L623.33 110.36 L624.62 109.51 L625.9 108.63 L627.18 107.75 L628.46 106.88 L629.74 106.02 L631.03 105.2 L632.31 104.42 L633.59 103.7 L634.87 103.05 L636.15 102.47 L637.44 101.98 L638.72 101.58 L640 101.29 L641.28 101.09 L642.56 101 L643.85 101.03 L645.13 101.15 L646.41 101.38 L647.69 101.7 L648.97 102.11 L650.26 102.6 L651.54 103.17 L652.82 103.79 L654.1 104.45 L655.38 105.15 L656.67 105.86 L657.95 106.58 L659.23 107.28 L660.51 107.95 L661.79 108.57 L663.08 109.14 L664.36 109.64 L665.64 110.06 L666.92 110.4 L668.21 110.63 L669.49 110.77 L670.77 110.8 L672.05 110.76 L673.33 110.66 L674.62 110.5 L675.9 110.29 L677.18 110.04 L678.46 109.73 L679.74 109.39 L681.03 109.01 L682.31 108.6 L683.59 108.18 L684.87 107.74 L686.15 107.29 L687.44 106.85 L688.72 106.42 L690 106.01 L691.28 105.62 L692.56 105.27 L693.85 104.95 L695.13 104.68 L696.41 104.45 L697.69 104.28 L698.97 104.17 L700.26 104.11 L701.54 104.11 L702.82 104.15 L704.1 104.22 L705.38 104.34 L706.67 104.49 L707.95 104.68 L709.23 104.89 L710.51 105.13 L711.79 105.39 L713.08 105.67 L714.36 105.95 L715.64 106.24 L716.92 106.53 L718.21 106.82 L719.49 107.09 L720.77 107.34 L722.05 107.57 L723.33 107.78 L724.62 107.96 L725.9 108.1 L727.18 108.2 L728.46 108.27 L729.74 108.3 L731.03 108.29 L732.31 108.26 L733.59 108.21 L734.87 108.13 L736.15 108.03 L737.44 107.92 L738.72 107.79 L740 107.64 L741.28 107.48 L742.56 107.3 L743.85 107.13 L745.13 106.95 L746.41 106.76 L747.69 106.58 L748.97 106.41 L750.26 106.24 L751.54 106.09 L752.82 105.95 L754.1 105.82 L755.38 105.71 L756.67 105.63 L757.95 105.56 L759.23 105.52 L760.51 105.5 L761.79 105.5 L763.08 105.53 L764.36 105.56 L765.64 105.62 L766.92 105.69 L768.21 105.77 L769.49 105.87 L770.77 105.97 L772.05 106.09 L773.33 106.21 L774.62 106.33 L775.9 106.46 L777.18 106.58 L778.46 106.7 L779.74 106.82 L781.03 106.92 L782.31 107.02 L783.59 107.11 L784.87 107.18 L786.15 107.23 L787.44 107.27 L788.72 107.29 L790 107.3 L791.28 107.29 L792.56 107.27 L793.85 107.24 L795.13 107.2 L796.41 107.16 L797.69 107.1 L798.97 107.03 L800.26 106.96 L801.54 106.88 L802.82 106.8 L804.1 106.72 L805.38 106.63 L806.67 106.55 L807.95 106.47 L809.23 106.39 L810.51 106.31 L811.79 106.24 L813.08 106.18 L814.36 106.12 L815.64 106.08 L816.92 106.04 L818.21 106.02 L819.49 106 L820.77 106 L822.05 106 L823.33 106.01 L824.62 106.02 L825.9 106.04 L827.18 106.06 L828.46 106.09 L829.74 106.11 L831.03 106.15 L832.31 106.18 L833.59 106.21 L834.87 106.25 L836.15 106.29 L837.44 106.33 L838.72 106.36 L840 106.4 L841.28 106.43 L842.56 106.47 L843.85 106.5 L845.13 106.52 L846.41 106.55 L847.69 106.57 L848.97 106.58 L850.26 106.59 L851.54 106.6 L852.82 106.6 L854.1 106.6 L855.38 106.6 L856.67 106.59 L857.95 106.59 L859.23 106.58 L860.51 106.57 L861.79 106.56 L863.08 106.55 L864.36 106.53 L865.64 106.52 L866.92 106.51 L868.21 106.49 L869.49 106.47 L870.77 106.46 L872.05 106.44 L873.33 106.43 L874.62 106.41 L875.9 106.4 L877.18 106.38 L878.46 106.37 L879.74 106.35 L881.03 106.34 L882.31 106.33 L883.59 106.32 L884.87 106.32 L886.15 106.31 L887.44 106.3 L888.72 106.3 L890 106.3" stroke="#00f000" stroke-width="3.7" stroke-linecap="butt" stroke-linejoin="round"/>
<g stroke="#0000ff" stroke-width="0.72">
<circle cx="400" cy="88.5" r="1.9"/>
<circle cx="403" cy="90" r="1.9"/>
<circle cx="406" cy="89" r="1.9"/>
<circle cx="401.5" cy="93" r="1.9"/>
<circle cx="404.5" cy="94.5" r="1.9"/>
<circle cx="407.5" cy="91" r="1.9"/>
<circle cx="408" cy="138.4" r="1.9"/>
<circle cx="409.5" cy="151" r="1.9"/>
<circle cx="418" cy="152" r="1.9"/>
<circle cx="414" cy="156" r="1.9"/>
<circle cx="411" cy="157" r="1.9"/>
<circle cx="416.44" cy="159.85" r="1.9"/>
<circle cx="417.85" cy="159.9" r="1.9"/>
<circle cx="420.13" cy="162.45" r="1.9"/>
<circle cx="421.47" cy="165.71" r="1.9"/>
<circle cx="423.21" cy="170.83" r="1.9"/>
<circle cx="425.06" cy="172.26" r="1.9"/>
<circle cx="427.05" cy="175.21" r="1.9"/>
<circle cx="429.03" cy="176.3" r="1.9"/>
<circle cx="430.9" cy="170.22" r="1.9"/>
<circle cx="432.42" cy="176.32" r="1.9"/>
<circle cx="434.28" cy="166.94" r="1.9"/>
<circle cx="435.97" cy="167.44" r="1.9"/>
<circle cx="438.14" cy="169.51" r="1.9"/>
<circle cx="439.83" cy="172.2" r="1.9"/>
<circle cx="441.45" cy="159.8" r="1.9"/>
<circle cx="443.06" cy="159.63" r="1.9"/>
<circle cx="445.22" cy="153.64" r="1.9"/>
<circle cx="446.89" cy="148.02" r="1.9"/>
<circle cx="448.86" cy="152.9" r="1.9"/>
<circle cx="450.38" cy="141.58" r="1.9"/>
<circle cx="452.49" cy="135.78" r="1.9"/>
<circle cx="454.25" cy="136.31" r="1.9"/>
<circle cx="455.99" cy="139.16" r="1.9"/>
<circle cx="457.73" cy="137.5" r="1.9"/>
<circle cx="459.43" cy="133.33" r="1.9"/>
<circle cx="461.39" cy="136.22" r="1.9"/>
<circle cx="463.13" cy="136.85" r="1.9"/>
<circle cx="464.8" cy="142.94" r="1.9"/>
<circle cx="466.99" cy="140.76" r="1.9"/>
<circle cx="468.75" cy="140.21" r="1.9"/>
<circle cx="470.02" cy="148.34" r="1.9"/>
<circle cx="472.32" cy="151.79" r="1.9"/>
<circle cx="473.8" cy="155.3" r="1.9"/>
<circle cx="475.44" cy="151.79" r="1.9"/>
<circle cx="477.3" cy="160.07" r="1.9"/>
<circle cx="479.17" cy="156.49" r="1.9"/>
<circle cx="481.25" cy="157.47" r="1.9"/>
<circle cx="482.75" cy="154.29" r="1.9"/>
<circle cx="484.6" cy="152.72" r="1.9"/>
<circle cx="486.45" cy="154.16" r="1.9"/>
<circle cx="488.41" cy="156.29" r="1.9"/>
<circle cx="490.32" cy="155.16" r="1.9"/>
<circle cx="491.61" cy="150.16" r="1.9"/>
<circle cx="493.55" cy="147.7" r="1.9"/>
<circle cx="495.36" cy="141.9" r="1.9"/>
<circle cx="497.08" cy="140.81" r="1.9"/>
<circle cx="498.83" cy="143.6" r="1.9"/>
<circle cx="500.94" cy="142.47" r="1.9"/>
<circle cx="502.45" cy="138.5" r="1.9"/>
<circle cx="504.43" cy="136.4" r="1.9"/>
<circle cx="506.56" cy="138.25" r="1.9"/>
<circle cx="508.08" cy="135.59" r="1.9"/>
<circle cx="509.81" cy="136.44" r="1.9"/>
<circle cx="512" cy="137.58" r="1.9"/>
<circle cx="513.44" cy="138.27" r="1.9"/>
<circle cx="515.4" cy="140.29" r="1.9"/>
<circle cx="517.26" cy="140.08" r="1.9"/>
<circle cx="518.74" cy="142.88" r="1.9"/>
<circle cx="520.47" cy="143.02" r="1.9"/>
<circle cx="522.78" cy="149.13" r="1.9"/>
<circle cx="524.09" cy="146.86" r="1.9"/>
<circle cx="526.33" cy="142.4" r="1.9"/>
<circle cx="528.12" cy="147.79" r="1.9"/>
<circle cx="530" cy="146.72" r="1.9"/>
<circle cx="531.65" cy="151.56" r="1.9"/>
<circle cx="533.27" cy="152.84" r="1.9"/>
<circle cx="535.09" cy="146.92" r="1.9"/>
<circle cx="536.61" cy="147.83" r="1.9"/>
<circle cx="538.95" cy="147.2" r="1.9"/>
<circle cx="540.41" cy="152.67" r="1.9"/>
<circle cx="542.43" cy="147.26" r="1.9"/>
<circle cx="544.13" cy="144.71" r="1.9"/>
<circle cx="546.2" cy="147.97" r="1.9"/>
<circle cx="547.57" cy="142.45" r="1.9"/>
<circle cx="549.2" cy="141.42" r="1.9"/>
<circle cx="551.21" cy="142.41" r="1.9"/>
<circle cx="552.93" cy="142.4" r="1.9"/>
<circle cx="554.95" cy="142.87" r="1.9"/>
<circle cx="556.89" cy="140.8" r="1.9"/>
<circle cx="558.4" cy="131.03" r="1.9"/>
<circle cx="560.2" cy="142.07" r="1.9"/>
<circle cx="562.2" cy="141.88" r="1.9"/>
<circle cx="564.07" cy="142.42" r="1.9"/>
<circle cx="565.82" cy="136.76" r="1.9"/>
<circle cx="567.56" cy="144.54" r="1.9"/>
<circle cx="569.37" cy="143.61" r="1.9"/>
<circle cx="570.99" cy="145.31" r="1.9"/>
<circle cx="573.02" cy="140.43" r="1.9"/>
<circle cx="574.83" cy="148.96" r="1.9"/>
<circle cx="576.79" cy="146.63" r="1.9"/>
<circle cx="578.27" cy="150.55" r="1.9"/>
<circle cx="579.85" cy="142.12" r="1.9"/>
<circle cx="582.12" cy="146.29" r="1.9"/>
<circle cx="583.82" cy="142.55" r="1.9"/>
<circle cx="585.57" cy="143.37" r="1.9"/>
<circle cx="587.03" cy="148.2" r="1.9"/>
<circle cx="589.07" cy="143.36" r="1.9"/>
<circle cx="590.68" cy="148.41" r="1.9"/>
<circle cx="592.54" cy="143.56" r="1.9"/>
<circle cx="594.38" cy="144.91" r="1.9"/>
<circle cx="596.48" cy="143.81" r="1.9"/>
<circle cx="598.22" cy="142.55" r="1.9"/>
<circle cx="599.9" cy="148.09" r="1.9"/>
<circle cx="601.84" cy="146.06" r="1.9"/>
<circle cx="603.21" cy="138.65" r="1.9"/>
<circle cx="605.31" cy="139.72" r="1.9"/>
<circle cx="607.09" cy="141.58" r="1.9"/>
<circle cx="608.91" cy="147.31" r="1.9"/>
<circle cx="610.64" cy="141.17" r="1.9"/>
<circle cx="612.41" cy="141.62" r="1.9"/>
<circle cx="614.17" cy="139.63" r="1.9"/>
<circle cx="615.87" cy="143.55" r="1.9"/>
<circle cx="618.02" cy="142.39" r="1.9"/>
<circle cx="619.86" cy="142.34" r="1.9"/>
<circle cx="621.46" cy="142.51" r="1.9"/>
<circle cx="623.52" cy="140.7" r="1.9"/>
<circle cx="625.35" cy="143.7" r="1.9"/>
<circle cx="627.18" cy="143.07" r="1.9"/>
<circle cx="628.95" cy="143.51" r="1.9"/>
<circle cx="630.73" cy="148.67" r="1.9"/>
<circle cx="632.42" cy="147.58" r="1.9"/>
<circle cx="634.02" cy="141.69" r="1.9"/>
<circle cx="635.97" cy="148.4" r="1.9"/>
<circle cx="637.97" cy="142.35" r="1.9"/>
<circle cx="639.62" cy="149.42" r="1.9"/>
<circle cx="641.56" cy="142.5" r="1.9"/>
<circle cx="643.03" cy="145.03" r="1.9"/>
<circle cx="644.88" cy="145.19" r="1.9"/>
<circle cx="646.51" cy="144.8" r="1.9"/>
<circle cx="648.24" cy="143.43" r="1.9"/>
<circle cx="650.22" cy="147.08" r="1.9"/>
<circle cx="651.89" cy="144.19" r="1.9"/>
<circle cx="653.82" cy="145.34" r="1.9"/>
<circle cx="655.59" cy="142.52" r="1.9"/>
<circle cx="657.78" cy="146.5" r="1.9"/>
<circle cx="659.58" cy="144.28" r="1.9"/>
<circle cx="661.2" cy="146.13" r="1.9"/>
<circle cx="662.67" cy="142.45" r="1.9"/>
<circle cx="664.7" cy="138.78" r="1.9"/>
<circle cx="666.71" cy="142.42" r="1.9"/>
<circle cx="668.26" cy="142.17" r="1.9"/>
<circle cx="670.3" cy="146.55" r="1.9"/>
<circle cx="671.84" cy="144.86" r="1.9"/>
<circle cx="673.7" cy="140.12" r="1.9"/>
<circle cx="675.29" cy="148.73" r="1.9"/>
<circle cx="677.48" cy="143.33" r="1.9"/>
<circle cx="678.93" cy="146.88" r="1.9"/>
<circle cx="680.82" cy="143.1" r="1.9"/>
<circle cx="682.48" cy="142.84" r="1.9"/>
<circle cx="684.42" cy="142.69" r="1.9"/>
<circle cx="686.53" cy="149.49" r="1.9"/>
<circle cx="688.1" cy="146.92" r="1.9"/>
<circle cx="690.1" cy="143.38" r="1.9"/>
<circle cx="691.8" cy="143.18" r="1.9"/>
<circle cx="693.55" cy="142.88" r="1.9"/>
<circle cx="695.08" cy="147.17" r="1.9"/>
</g>
<path transform="scale(0.78 1)" d="M532.44 155 L533.72 156.9 L535 158.8 L536.28 160.66 L537.56 162.49 L538.85 164.24 L540.13 165.9 L541.41 167.46 L542.69 168.89 L543.97 170.18 L545.26 171.32 L546.54 172.29 L547.82 173.07 L549.1 173.67 L550.38 174.07 L551.67 174.27 L552.95 174.27 L554.23 173.99 L555.51 173.45 L556.79 172.65 L558.08 171.6 L559.36 170.32 L560.64 168.82 L561.92 167.12 L563.21 165.26 L564.49 163.25 L565.77 161.13 L567.05 158.92 L568.33 156.67 L569.62 154.39 L570.9 152.13 L572.18 149.91 L573.46 147.77 L574.74 145.73 L576.03 143.84 L577.31 142.11 L578.59 140.57 L579.87 139.24 L581.15 138.14 L582.44 137.29 L583.72 136.69 L585 136.37 L586.28 136.31 L587.56 136.43 L588.85 136.72 L590.13 137.15 L591.41 137.73 L592.69 138.44 L593.97 139.27 L595.26 140.22 L596.54 141.26 L597.82 142.38 L599.1 143.56 L600.38 144.78 L601.67 146.03 L602.95 147.27 L604.23 148.5 L605.51 149.69 L606.79 150.82 L608.08 151.88 L609.36 152.85 L610.64 153.7 L611.92 154.44 L613.21 155.05 L614.49 155.51 L615.77 155.82 L617.05 155.98 L618.33 155.98 L619.62 155.85 L620.9 155.57 L622.18 155.17 L623.46 154.64 L624.74 153.99 L626.03 153.23 L627.31 152.38 L628.59 151.45 L629.87 150.45 L631.15 149.39 L632.44 148.3 L633.72 147.18 L635 146.06 L636.28 144.95 L637.56 143.88 L638.85 142.84 L640.13 141.87 L641.41 140.98 L642.69 140.18 L643.97 139.47 L645.26 138.88 L646.54 138.41 L647.82 138.07 L649.1 137.87 L650.38 137.8 L651.67 137.84 L652.95 137.97 L654.23 138.19 L655.51 138.49 L656.79 138.86 L658.08 139.31 L659.36 139.82 L660.64 140.39 L661.92 141 L663.21 141.66 L664.49 142.34 L665.77 143.04 L667.05 143.75 L668.33 144.45 L669.62 145.14 L670.9 145.8 L672.18 146.43 L673.46 147.01 L674.74 147.54 L676.03 148.01 L677.31 148.41 L678.59 148.73 L679.87 148.97 L681.15 149.13 L682.44 149.2 L683.72 149.18 L685 149.09 L686.28 148.92 L687.56 148.68 L688.85 148.38 L690.13 148.01 L691.41 147.58 L692.69 147.11 L693.97 146.59 L695.26 146.05 L696.54 145.48 L697.82 144.9 L699.1 144.31 L700.38 143.74 L701.67 143.18 L702.95 142.64 L704.23 142.15 L705.51 141.7 L706.79 141.3 L708.08 140.96 L709.36 140.69 L710.64 140.48 L711.92 140.36 L713.21 140.3 L714.49 140.32 L715.77 140.38 L717.05 140.49 L718.33 140.66 L719.62 140.86 L720.9 141.11 L722.18 141.39 L723.46 141.71 L724.74 142.06 L726.03 142.43 L727.31 142.81 L728.59 143.21 L729.87 143.62 L731.15 144.03 L732.44 144.42 L733.72 144.81 L735 145.18 L736.28 145.52 L737.56 145.84 L738.85 146.12 L740.13 146.36 L741.41 146.56 L742.69 146.72 L743.97 146.83 L745.26 146.89 L746.54 146.9 L747.82 146.87 L749.1 146.81 L750.38 146.73 L751.67 146.61 L752.95 146.46 L754.23 146.28 L755.51 146.09 L756.79 145.87 L758.08 145.63 L759.36 145.37 L760.64 145.11 L761.92 144.83 L763.21 144.56 L764.49 144.28 L765.77 144 L767.05 143.73 L768.33 143.47 L769.62 143.23 L770.9 143 L772.18 142.79 L773.46 142.61 L774.74 142.45 L776.03 142.32 L777.31 142.22 L778.59 142.15 L779.87 142.11 L781.15 142.1 L782.44 142.13 L783.72 142.19 L785 142.27 L786.28 142.39 L787.56 142.54 L788.85 142.71 L790.13 142.9 L791.41 143.1 L792.69 143.32 L793.97 143.55 L795.26 143.79 L796.54 144.02 L797.82 144.25 L799.1 144.47 L800.38 144.68 L801.67 144.88 L802.95 145.05 L804.23 145.19 L805.51 145.32 L806.79 145.41 L808.08 145.47 L809.36 145.5 L810.64 145.5 L811.92 145.48 L813.21 145.45 L814.49 145.4 L815.77 145.35 L817.05 145.27 L818.33 145.19 L819.62 145.09 L820.9 144.99 L822.18 144.88 L823.46 144.76 L824.74 144.64 L826.03 144.51 L827.31 144.38 L828.59 144.25 L829.87 144.13 L831.15 144 L832.44 143.89 L833.72 143.78 L835 143.68 L836.28 143.58 L837.56 143.5 L838.85 143.44 L840.13 143.38 L841.41 143.34 L842.69 143.31 L843.97 143.3 L845.26 143.3 L846.54 143.32 L847.82 143.36 L849.1 143.41 L850.38 143.47 L851.67 143.55 L852.95 143.63 L854.23 143.73 L855.51 143.83 L856.79 143.94 L858.08 144.05 L859.36 144.16 L860.64 144.27 L861.92 144.37 L863.21 144.47 L864.49 144.55 L865.77 144.63 L867.05 144.69 L868.33 144.74 L869.62 144.78 L870.9 144.8 L872.18 144.8 L873.46 144.8 L874.74 144.79 L876.03 144.78 L877.31 144.76 L878.59 144.74 L879.87 144.72 L881.15 144.7 L882.44 144.68 L883.72 144.66 L885 144.64 L886.28 144.62 L887.56 144.61 L888.85 144.6 L890.13 144.6" stroke="#0000ff" stroke-width="3.7" stroke-linecap="butt" stroke-linejoin="round"/>
<g stroke="#ff00e6" stroke-width="0.72">
<circle cx="403" cy="137.3" r="2"/>
<circle cx="400" cy="143" r="2"/>
<circle cx="402" cy="148" r="2"/>
<circle cx="406.5" cy="146" r="2"/>
<circle cx="404.5" cy="140.5" r="2"/>
<circle cx="399.5" cy="139" r="2"/>
<circle cx="407.7" cy="177.8" r="2"/>
<circle cx="410" cy="190" r="2"/>
<circle cx="414" cy="188" r="2"/>
<circle cx="412.5" cy="193" r="2"/>
<circle cx="418" cy="189" r="2"/>
<circle cx="416" cy="197" r="2"/>
<circle cx="417.44" cy="197.15" r="2"/>
<circle cx="419.53" cy="192.96" r="2"/>
<circle cx="421.44" cy="196.59" r="2"/>
<circle cx="423.09" cy="198" r="2"/>
<circle cx="424.85" cy="198.48" r="2"/>
<circle cx="426.49" cy="205.14" r="2"/>
<circle cx="428.38" cy="200.5" r="2"/>
<circle cx="430.06" cy="201.57" r="2"/>
<circle cx="432.06" cy="206.13" r="2"/>
<circle cx="434" cy="207.95" r="2"/>
<circle cx="435.51" cy="204.68" r="2"/>
<circle cx="437.22" cy="206.83" r="2"/>
<circle cx="439.38" cy="203.58" r="2"/>
<circle cx="441.08" cy="201.22" r="2"/>
<circle cx="442.81" cy="207.68" r="2"/>
<circle cx="444.58" cy="196.41" r="2"/>
<circle cx="446.14" cy="196.86" r="2"/>
<circle cx="448.32" cy="196.66" r="2"/>
<circle cx="449.95" cy="193.68" r="2"/>
<circle cx="451.79" cy="191.26" r="2"/>
<circle cx="453.83" cy="183.3" r="2"/>
<circle cx="455.41" cy="187.26" r="2"/>
<circle cx="456.92" cy="178.51" r="2"/>
<circle cx="458.82" cy="180.34" r="2"/>
<circle cx="460.85" cy="176.63" r="2"/>
<circle cx="462.79" cy="178.62" r="2"/>
<circle cx="464.68" cy="175.9" r="2"/>
<circle cx="466.41" cy="175.79" r="2"/>
<circle cx="467.8" cy="181.23" r="2"/>
<circle cx="469.61" cy="177.88" r="2"/>
<circle cx="471.45" cy="179.77" r="2"/>
<circle cx="473.15" cy="180.04" r="2"/>
<circle cx="475.04" cy="180.49" r="2"/>
<circle cx="476.84" cy="182.3" r="2"/>
<circle cx="479.03" cy="183.78" r="2"/>
<circle cx="480.54" cy="186.96" r="2"/>
<circle cx="482.34" cy="179.38" r="2"/>
<circle cx="484.13" cy="184.56" r="2"/>
<circle cx="486.24" cy="187.96" r="2"/>
<circle cx="487.71" cy="184.57" r="2"/>
<circle cx="489.31" cy="189.45" r="2"/>
<circle cx="491.36" cy="182.89" r="2"/>
<circle cx="492.92" cy="190.74" r="2"/>
<circle cx="494.8" cy="188.29" r="2"/>
<circle cx="496.91" cy="187.72" r="2"/>
<circle cx="498.45" cy="187.24" r="2"/>
<circle cx="500.52" cy="183.62" r="2"/>
<circle cx="502.06" cy="183.17" r="2"/>
<circle cx="504.23" cy="182.24" r="2"/>
<circle cx="505.8" cy="176.03" r="2"/>
<circle cx="507.39" cy="180.19" r="2"/>
<circle cx="509.16" cy="176.66" r="2"/>
<circle cx="511.25" cy="175.62" r="2"/>
<circle cx="513.19" cy="180.01" r="2"/>
<circle cx="514.81" cy="181.17" r="2"/>
<circle cx="516.79" cy="174.49" r="2"/>
<circle cx="518.3" cy="178.76" r="2"/>
<circle cx="520.33" cy="179.71" r="2"/>
<circle cx="521.83" cy="179.46" r="2"/>
<circle cx="524.04" cy="174.55" r="2"/>
<circle cx="525.76" cy="181.04" r="2"/>
<circle cx="527.19" cy="184.33" r="2"/>
<circle cx="529.12" cy="182.25" r="2"/>
<circle cx="531.09" cy="183.1" r="2"/>
<circle cx="532.99" cy="182.34" r="2"/>
<circle cx="534.84" cy="181.09" r="2"/>
<circle cx="536.51" cy="180.92" r="2"/>
<circle cx="538.32" cy="188.29" r="2"/>
<circle cx="540.06" cy="181.28" r="2"/>
<circle cx="541.74" cy="180.93" r="2"/>
<circle cx="543.4" cy="182.94" r="2"/>
<circle cx="545.3" cy="181.54" r="2"/>
<circle cx="547.33" cy="183.77" r="2"/>
<circle cx="548.88" cy="187.44" r="2"/>
<circle cx="550.66" cy="179.64" r="2"/>
<circle cx="552.83" cy="182.47" r="2"/>
<circle cx="554.15" cy="182.04" r="2"/>
<circle cx="556.31" cy="180.25" r="2"/>
<circle cx="557.9" cy="177.16" r="2"/>
<circle cx="560.03" cy="177.23" r="2"/>
<circle cx="561.79" cy="177.72" r="2"/>
<circle cx="563.17" cy="179.01" r="2"/>
<circle cx="565.22" cy="178.08" r="2"/>
<circle cx="567.27" cy="181.56" r="2"/>
<circle cx="569" cy="176.37" r="2"/>
<circle cx="570.84" cy="176.4" r="2"/>
<circle cx="572.69" cy="177.98" r="2"/>
<circle cx="574.29" cy="181.02" r="2"/>
<circle cx="576.11" cy="176.43" r="2"/>
<circle cx="578.08" cy="181.84" r="2"/>
<circle cx="579.41" cy="184.23" r="2"/>
<circle cx="581.69" cy="183.58" r="2"/>
<circle cx="583.48" cy="185.58" r="2"/>
<circle cx="585.04" cy="182.11" r="2"/>
<circle cx="587.01" cy="182.68" r="2"/>
<circle cx="588.32" cy="178.76" r="2"/>
<circle cx="590.1" cy="178.78" r="2"/>
<circle cx="592.11" cy="184.92" r="2"/>
<circle cx="594.21" cy="185.27" r="2"/>
<circle cx="595.63" cy="186.09" r="2"/>
<circle cx="597.81" cy="179.8" r="2"/>
<circle cx="599.41" cy="181.93" r="2"/>
<circle cx="601.31" cy="183.45" r="2"/>
<circle cx="602.99" cy="185.18" r="2"/>
<circle cx="604.99" cy="184.07" r="2"/>
<circle cx="606.47" cy="181.68" r="2"/>
<circle cx="608.17" cy="178.06" r="2"/>
<circle cx="610.39" cy="177.7" r="2"/>
<circle cx="611.92" cy="180.4" r="2"/>
<circle cx="613.55" cy="179.11" r="2"/>
<circle cx="615.47" cy="172.7" r="2"/>
<circle cx="617.27" cy="181.15" r="2"/>
<circle cx="619.49" cy="182.51" r="2"/>
<circle cx="620.74" cy="178.75" r="2"/>
<circle cx="622.55" cy="176.07" r="2"/>
<circle cx="624.82" cy="179.52" r="2"/>
<circle cx="626.25" cy="179.69" r="2"/>
<circle cx="628.45" cy="177.37" r="2"/>
<circle cx="630.29" cy="180.08" r="2"/>
<circle cx="631.54" cy="178.83" r="2"/>
<circle cx="633.63" cy="175.44" r="2"/>
<circle cx="635.14" cy="176.78" r="2"/>
<circle cx="637.12" cy="173.45" r="2"/>
<circle cx="639.23" cy="177.18" r="2"/>
<circle cx="640.91" cy="177.31" r="2"/>
<circle cx="642.79" cy="175.04" r="2"/>
<circle cx="644.57" cy="180.85" r="2"/>
<circle cx="646.37" cy="178.45" r="2"/>
<circle cx="648.25" cy="179.23" r="2"/>
<circle cx="649.53" cy="179.77" r="2"/>
<circle cx="651.85" cy="180.03" r="2"/>
<circle cx="653.31" cy="181.16" r="2"/>
<circle cx="655.44" cy="178.08" r="2"/>
<circle cx="656.98" cy="176.14" r="2"/>
<circle cx="658.71" cy="178.74" r="2"/>
<circle cx="660.7" cy="176.1" r="2"/>
<circle cx="662.15" cy="177.77" r="2"/>
<circle cx="663.95" cy="178.97" r="2"/>
<circle cx="666.21" cy="179.65" r="2"/>
<circle cx="667.7" cy="182.41" r="2"/>
<circle cx="669.35" cy="172.41" r="2"/>
<circle cx="671.58" cy="182.52" r="2"/>
<circle cx="673.39" cy="179.88" r="2"/>
<circle cx="674.99" cy="178.25" r="2"/>
<circle cx="676.91" cy="174.23" r="2"/>
<circle cx="678.61" cy="185.23" r="2"/>
<circle cx="680.39" cy="182.14" r="2"/>
<circle cx="682.06" cy="183.96" r="2"/>
<circle cx="683.71" cy="181.85" r="2"/>
<circle cx="685.79" cy="176.74" r="2"/>
<circle cx="687.34" cy="173.43" r="2"/>
<circle cx="689.19" cy="178.75" r="2"/>
<circle cx="690.91" cy="177.82" r="2"/>
<circle cx="693.25" cy="179.49" r="2"/>
<circle cx="695.04" cy="180.61" r="2"/>
</g>
<path transform="scale(0.78 1)" d="M534.1 190.8 L535.38 192.04 L536.67 193.29 L537.95 194.51 L539.23 195.72 L540.51 196.89 L541.79 198.01 L543.08 199.08 L544.36 200.08 L545.64 201.01 L546.92 201.86 L548.21 202.61 L549.49 203.26 L550.77 203.82 L552.05 204.26 L553.33 204.59 L554.62 204.8 L555.9 204.89 L557.18 204.87 L558.46 204.72 L559.74 204.44 L561.03 204.05 L562.31 203.54 L563.59 202.91 L564.87 202.18 L566.15 201.34 L567.44 200.42 L568.72 199.4 L570 198.31 L571.28 197.16 L572.56 195.95 L573.85 194.7 L575.13 193.41 L576.41 192.1 L577.69 190.79 L578.97 189.47 L580.26 188.17 L581.54 186.9 L582.82 185.66 L584.1 184.47 L585.38 183.34 L586.67 182.28 L587.95 181.3 L589.23 180.41 L590.51 179.62 L591.79 178.93 L593.08 178.34 L594.36 177.88 L595.64 177.53 L596.92 177.31 L598.21 177.21 L599.49 177.22 L600.77 177.34 L602.05 177.55 L603.33 177.85 L604.62 178.24 L605.9 178.7 L607.18 179.24 L608.46 179.84 L609.74 180.49 L611.03 181.18 L612.31 181.9 L613.59 182.64 L614.87 183.38 L616.15 184.12 L617.44 184.83 L618.72 185.51 L620 186.15 L621.28 186.73 L622.56 187.25 L623.85 187.69 L625.13 188.05 L626.41 188.32 L627.69 188.51 L628.97 188.59 L630.26 188.58 L631.54 188.48 L632.82 188.28 L634.1 187.99 L635.38 187.62 L636.67 187.16 L637.95 186.63 L639.23 186.03 L640.51 185.38 L641.79 184.68 L643.08 183.95 L644.36 183.19 L645.64 182.42 L646.92 181.64 L648.21 180.88 L649.49 180.13 L650.77 179.42 L652.05 178.76 L653.33 178.14 L654.62 177.59 L655.9 177.11 L657.18 176.71 L658.46 176.4 L659.74 176.17 L661.03 176.04 L662.31 176 L663.59 176.04 L664.87 176.13 L666.15 176.28 L667.44 176.49 L668.72 176.74 L670 177.05 L671.28 177.4 L672.56 177.79 L673.85 178.22 L675.13 178.67 L676.41 179.14 L677.69 179.63 L678.97 180.13 L680.26 180.62 L681.54 181.11 L682.82 181.59 L684.1 182.05 L685.38 182.48 L686.67 182.88 L687.95 183.25 L689.23 183.57 L690.51 183.84 L691.79 184.06 L693.08 184.23 L694.36 184.34 L695.64 184.4 L696.92 184.39 L698.21 184.33 L699.49 184.23 L700.77 184.07 L702.05 183.87 L703.33 183.62 L704.62 183.33 L705.9 183.01 L707.18 182.65 L708.46 182.27 L709.74 181.86 L711.03 181.44 L712.31 181.01 L713.59 180.58 L714.87 180.14 L716.15 179.72 L717.44 179.31 L718.72 178.92 L720 178.56 L721.28 178.23 L722.56 177.94 L723.85 177.68 L725.13 177.47 L726.41 177.3 L727.69 177.18 L728.97 177.12 L730.26 177.1 L731.54 177.13 L732.82 177.19 L734.1 177.3 L735.38 177.44 L736.67 177.61 L737.95 177.82 L739.23 178.05 L740.51 178.31 L741.79 178.59 L743.08 178.89 L744.36 179.21 L745.64 179.54 L746.92 179.87 L748.21 180.2 L749.49 180.53 L750.77 180.85 L752.05 181.16 L753.33 181.45 L754.62 181.72 L755.9 181.97 L757.18 182.19 L758.46 182.38 L759.74 182.54 L761.03 182.66 L762.31 182.74 L763.59 182.79 L764.87 182.8 L766.15 182.77 L767.44 182.7 L768.72 182.59 L770 182.45 L771.28 182.28 L772.56 182.07 L773.85 181.84 L775.13 181.58 L776.41 181.3 L777.69 181.01 L778.97 180.7 L780.26 180.39 L781.54 180.08 L782.82 179.77 L784.1 179.46 L785.38 179.17 L786.67 178.89 L787.95 178.64 L789.23 178.41 L790.51 178.21 L791.79 178.03 L793.08 177.9 L794.36 177.79 L795.64 177.73 L796.92 177.7 L798.21 177.71 L799.49 177.74 L800.77 177.79 L802.05 177.86 L803.33 177.95 L804.62 178.06 L805.9 178.19 L807.18 178.34 L808.46 178.5 L809.74 178.67 L811.03 178.85 L812.31 179.04 L813.59 179.24 L814.87 179.44 L816.15 179.64 L817.44 179.84 L818.72 180.03 L820 180.22 L821.28 180.4 L822.56 180.57 L823.85 180.72 L825.13 180.86 L826.41 180.98 L827.69 181.09 L828.97 181.17 L830.26 181.24 L831.54 181.28 L832.82 181.3 L834.1 181.3 L835.38 181.27 L836.67 181.21 L837.95 181.13 L839.23 181.03 L840.51 180.9 L841.79 180.76 L843.08 180.6 L844.36 180.43 L845.64 180.24 L846.92 180.05 L848.21 179.86 L849.49 179.67 L850.77 179.48 L852.05 179.3 L853.33 179.13 L854.62 178.98 L855.9 178.84 L857.18 178.73 L858.46 178.63 L859.74 178.56 L861.03 178.52 L862.31 178.5 L863.59 178.5 L864.87 178.52 L866.15 178.56 L867.44 178.6 L868.72 178.66 L870 178.73 L871.28 178.81 L872.56 178.9 L873.85 179 L875.13 179.09 L876.41 179.19 L877.69 179.3 L878.97 179.4 L880.26 179.49 L881.54 179.58 L882.82 179.66 L884.1 179.73 L885.38 179.79 L886.67 179.84 L887.95 179.87 L889.23 179.89 L890.51 179.9" stroke="#ff00e6" stroke-width="3.7" stroke-linecap="butt" stroke-linejoin="round"/>
</g>
<path d="M397.5 10.6 V229.3 H694.2" fill="none" stroke="#000" stroke-width="1"/>
<path d="M397.5 10.6 H694.2" fill="none" stroke="#111" stroke-width="1"/>
<path d="M694.2 10.6 V229.3" fill="none" stroke="#4a4a4a" stroke-width="1.2"/>
<line x1="393.3" x2="397.5" y1="10.2" y2="10.2" stroke="#000" stroke-width="1"/>
<text x="389.2" y="14.3" font-size="13.5" text-anchor="end">0.000</text>
<line x1="393.3" x2="397.5" y1="46.7" y2="46.7" stroke="#000" stroke-width="1"/>
<text x="389.2" y="50.8" font-size="13.5" text-anchor="end">-0.001</text>
<line x1="393.3" x2="397.5" y1="83.2" y2="83.2" stroke="#000" stroke-width="1"/>
<text x="389.2" y="87.3" font-size="13.5" text-anchor="end">-0.002</text>
<line x1="393.3" x2="397.5" y1="119.7" y2="119.7" stroke="#000" stroke-width="1"/>
<text x="389.2" y="123.8" font-size="13.5" text-anchor="end">-0.003</text>
<line x1="393.3" x2="397.5" y1="156.2" y2="156.2" stroke="#000" stroke-width="1"/>
<text x="389.2" y="160.3" font-size="13.5" text-anchor="end">-0.004</text>
<line x1="393.3" x2="397.5" y1="192.7" y2="192.7" stroke="#000" stroke-width="1"/>
<text x="389.2" y="196.8" font-size="13.5" text-anchor="end">-0.005</text>
<line x1="393.3" x2="397.5" y1="229.2" y2="229.2" stroke="#000" stroke-width="1"/>
<text x="389.2" y="233.3" font-size="13.5" text-anchor="end">-0.006</text>
<line x1="395.3" x2="397.5" y1="28.45" y2="28.45" stroke="#000" stroke-width="1"/>
<line x1="395.3" x2="397.5" y1="64.95" y2="64.95" stroke="#000" stroke-width="1"/>
<line x1="395.3" x2="397.5" y1="101.45" y2="101.45" stroke="#000" stroke-width="1"/>
<line x1="395.3" x2="397.5" y1="137.95" y2="137.95" stroke="#000" stroke-width="1"/>
<line x1="395.3" x2="397.5" y1="174.45" y2="174.45" stroke="#000" stroke-width="1"/>
<line x1="395.3" x2="397.5" y1="210.95" y2="210.95" stroke="#000" stroke-width="1"/>
<line y1="229.3" y2="232.8" x1="397.3" x2="397.3" stroke="#000" stroke-width="1"/>
<text x="397.3" y="247.2" font-size="13" text-anchor="middle">0</text>
<line y1="229.3" y2="232.8" x1="456.7" x2="456.7" stroke="#000" stroke-width="1"/>
<text x="456.7" y="247.2" font-size="13" text-anchor="middle">100</text>
<line y1="229.3" y2="232.8" x1="516.1" x2="516.1" stroke="#000" stroke-width="1"/>
<text x="516.1" y="247.2" font-size="13" text-anchor="middle">200</text>
<line y1="229.3" y2="232.8" x1="575.5" x2="575.5" stroke="#000" stroke-width="1"/>
<text x="575.5" y="247.2" font-size="13" text-anchor="middle">300</text>
<line y1="229.3" y2="232.8" x1="634.9" x2="634.9" stroke="#000" stroke-width="1"/>
<text x="634.9" y="247.2" font-size="13" text-anchor="middle">400</text>
<line y1="229.3" y2="232.8" x1="694.3" x2="694.3" stroke="#000" stroke-width="1"/>
<text x="694.3" y="247.2" font-size="13" text-anchor="middle">500</text>
<line y1="229.3" y2="231.3" x1="427" x2="427" stroke="#000" stroke-width="1"/>
<line y1="229.3" y2="231.3" x1="486.4" x2="486.4" stroke="#000" stroke-width="1"/>
<line y1="229.3" y2="231.3" x1="545.8" x2="545.8" stroke="#000" stroke-width="1"/>
<line y1="229.3" y2="231.3" x1="605.2" x2="605.2" stroke="#000" stroke-width="1"/>
<line y1="229.3" y2="231.3" x1="664.6" x2="664.6" stroke="#000" stroke-width="1"/>
<text class="b" x="509" y="272.3" font-size="15" textLength="72.5" lengthAdjust="spacingAndGlyphs">Delay (ps)</text>
<text class="b" transform="translate(341.4 225) rotate(-90)" font-size="15.5" textLength="212" lengthAdjust="spacingAndGlyphs">TR-MOKE Signal (arb. units)</text>
<text class="b" x="601.3" y="68.4" font-size="15" textLength="84.6" lengthAdjust="spacingAndGlyphs">H = 5650 Oe</text>
<text class="b" x="601.3" y="102.5" font-size="15" textLength="84.6" lengthAdjust="spacingAndGlyphs">H = 5060 Oe</text>
<text class="b" x="598.6" y="129.4" font-size="15" textLength="84.8" lengthAdjust="spacingAndGlyphs">H = 4695 Oe</text>
<text class="b" x="598.6" y="168.8" font-size="15" textLength="84.8" lengthAdjust="spacingAndGlyphs">H = 4310 Oe</text>
<text class="b" x="598.6" y="207.2" font-size="15" textLength="84.8" lengthAdjust="spacingAndGlyphs">H = 3900 Oe</text>
<text class="s" x="415.6" y="40.9" font-size="23.5">b)</text>
</svg></body></html>
